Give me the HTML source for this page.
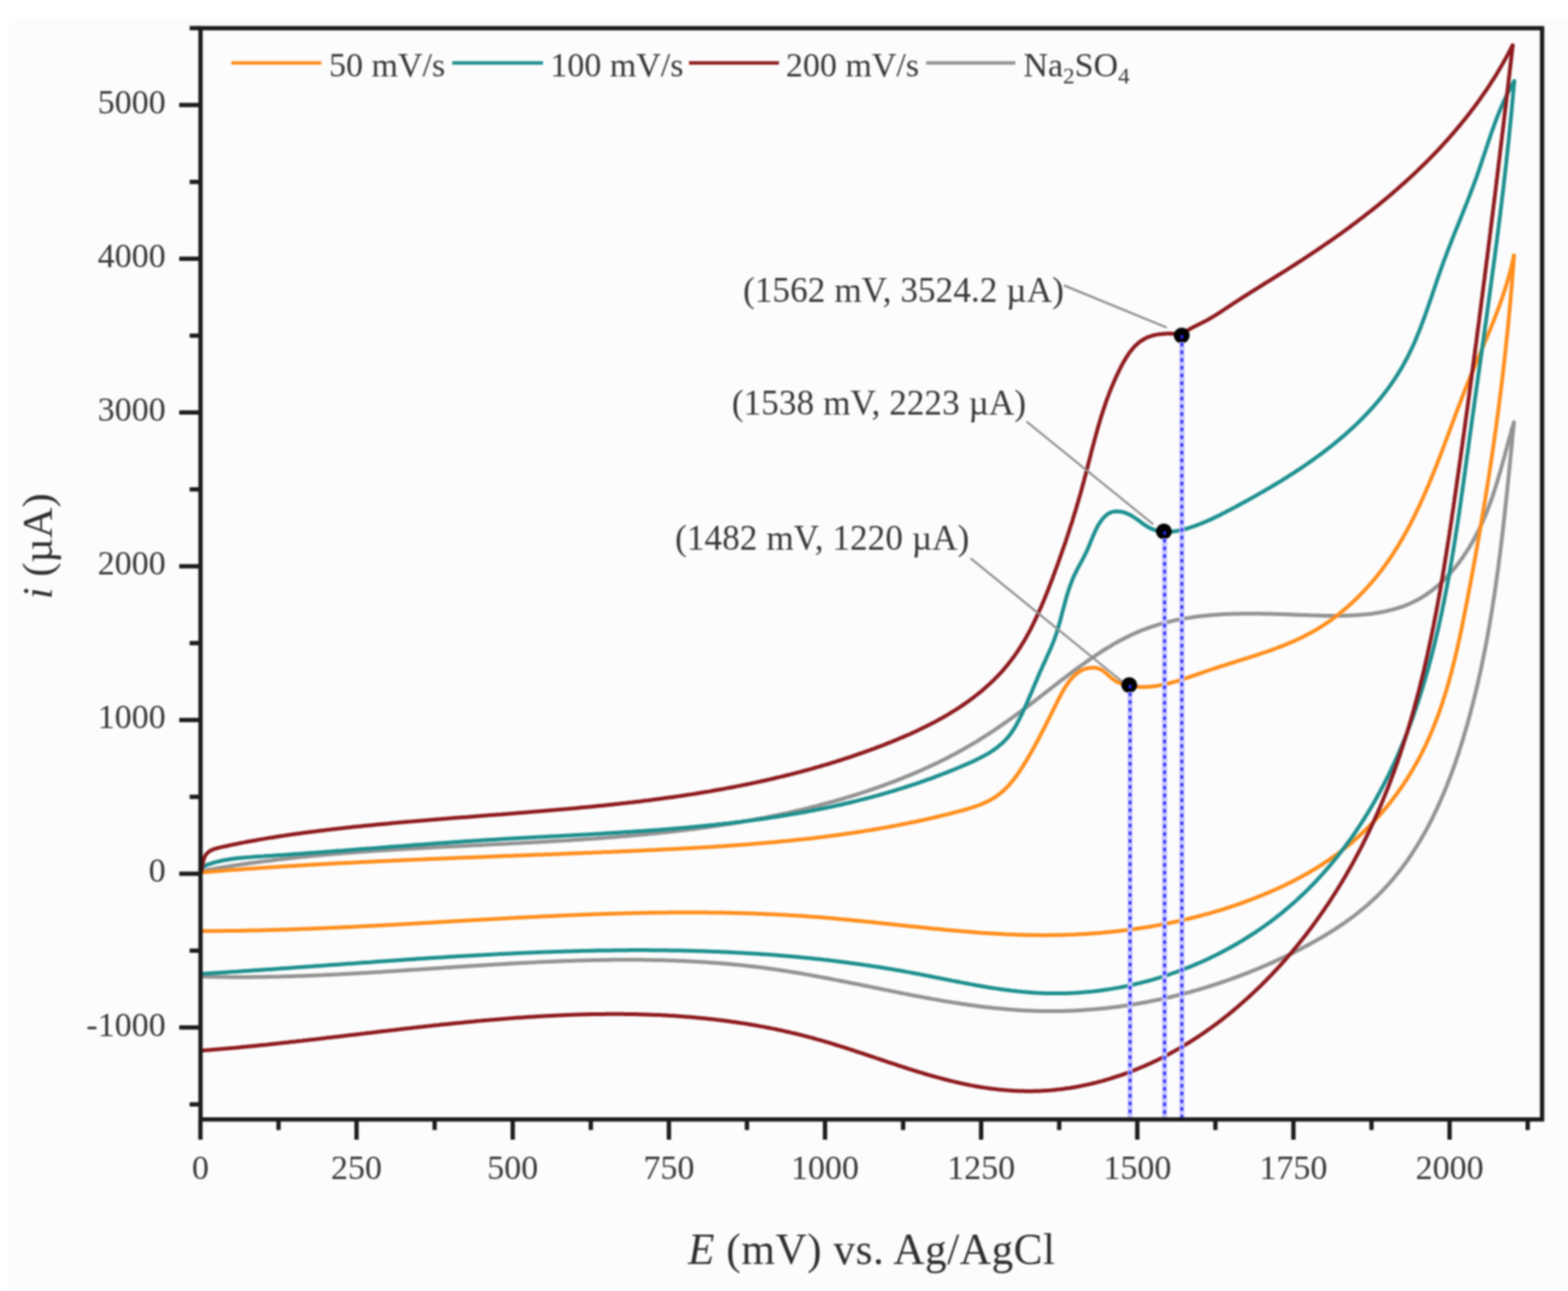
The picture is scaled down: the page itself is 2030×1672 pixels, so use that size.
<!DOCTYPE html>
<html><head><meta charset="utf-8"><title>Cyclic voltammetry</title>
<style>
html,body{margin:0;padding:0;background:#fff;overflow:hidden;}
svg{display:block;}
#wrap{width:2030px;height:1672px;filter:blur(1px);}
.tk{font-family:"Liberation Serif",serif;font-size:44px;fill:#383838;}
.an{font-family:"Liberation Serif",serif;font-size:45.5px;letter-spacing:0.1px;fill:#383838;}
.ti{font-family:"Liberation Serif",serif;font-size:56px;letter-spacing:0.68px;fill:#2e2e2e;}
</style></head><body>
<div id="wrap"><svg xmlns="http://www.w3.org/2000/svg" width="2030" height="1672" viewBox="0 0 2030 1672">
<rect x="0" y="0" width="2030" height="1672" fill="#ffffff"/>
<rect x="12" y="23" width="2018" height="1649" fill="#fcfcfc"/>
<path d="M259.9 1128.2 L262.8 1127.7 L265.7 1127.1 L268.6 1126.6 L271.6 1126.1 L274.5 1125.6 L277.4 1125.1 L280.4 1124.6 L283.3 1124.1 L286.2 1123.6 L289.2 1123.1 L292.1 1122.7 L295.1 1122.2 L298.0 1121.7 L301.0 1121.3 L303.9 1120.8 L306.8 1120.4 L309.8 1119.9 L312.7 1119.5 L315.7 1119.1 L318.6 1118.7 L321.6 1118.2 L324.5 1117.8 L327.5 1117.4 L330.4 1117.0 L333.4 1116.6 L336.3 1116.2 L339.3 1115.8 L342.2 1115.5 L345.2 1115.1 L348.2 1114.7 L351.1 1114.4 L354.1 1114.0 L357.0 1113.6 L360.0 1113.3 L363.0 1112.9 L365.9 1112.6 L368.9 1112.3 L371.9 1111.9 L374.8 1111.6 L377.8 1111.3 L380.7 1110.9 L383.7 1110.6 L386.7 1110.3 L389.7 1110.0 L392.6 1109.7 L395.6 1109.4 L398.6 1109.1 L401.5 1108.8 L404.5 1108.5 L407.5 1108.2 L410.5 1108.0 L413.4 1107.7 L416.4 1107.4 L419.4 1107.1 L422.4 1106.9 L425.3 1106.6 L428.3 1106.4 L431.3 1106.1 L434.3 1105.9 L437.3 1105.6 L440.2 1105.4 L443.2 1105.1 L446.2 1104.9 L449.2 1104.6 L452.2 1104.4 L455.2 1104.2 L458.1 1103.9 L461.1 1103.7 L464.1 1103.5 L467.1 1103.3 L470.1 1103.1 L473.1 1102.9 L476.1 1102.6 L479.1 1102.4 L482.1 1102.2 L485.0 1102.0 L488.0 1101.8 L491.0 1101.6 L494.0 1101.4 L497.0 1101.2 L500.0 1101.0 L503.0 1100.9 L506.0 1100.7 L509.0 1100.5 L512.0 1100.3 L515.0 1100.1 L518.0 1099.9 L521.0 1099.8 L524.0 1099.6 L527.0 1099.4 L530.0 1099.2 L533.0 1099.1 L536.0 1098.9 L539.0 1098.7 L542.0 1098.5 L545.0 1098.4 L548.0 1098.2 L551.0 1098.1 L554.0 1097.9 L557.0 1097.7 L560.0 1097.6 L563.0 1097.4 L566.0 1097.3 L569.0 1097.1 L572.0 1096.9 L575.0 1096.8 L578.0 1096.6 L581.0 1096.5 L584.0 1096.3 L587.0 1096.2 L590.0 1096.0 L593.0 1095.9 L596.0 1095.7 L599.0 1095.6 L602.0 1095.4 L605.1 1095.3 L608.1 1095.1 L611.1 1095.0 L614.1 1094.8 L617.1 1094.7 L620.1 1094.5 L623.1 1094.4 L626.1 1094.2 L629.1 1094.1 L632.1 1093.9 L635.1 1093.8 L638.2 1093.6 L641.2 1093.5 L644.2 1093.3 L647.2 1093.2 L650.2 1093.0 L653.2 1092.9 L656.2 1092.7 L659.2 1092.6 L662.2 1092.4 L665.3 1092.3 L668.3 1092.1 L671.3 1091.9 L674.3 1091.8 L677.3 1091.6 L680.3 1091.5 L683.3 1091.3 L686.3 1091.2 L689.4 1091.0 L692.4 1090.8 L695.4 1090.7 L698.4 1090.5 L701.4 1090.3 L704.4 1090.2 L707.4 1090.0 L710.5 1089.8 L713.5 1089.6 L716.5 1089.5 L719.5 1089.3 L722.5 1089.1 L725.5 1088.9 L728.5 1088.7 L731.6 1088.6 L734.6 1088.4 L737.6 1088.2 L740.6 1088.0 L743.6 1087.8 L746.6 1087.6 L749.6 1087.4 L752.6 1087.2 L755.7 1087.0 L758.7 1086.8 L761.7 1086.6 L764.7 1086.4 L767.7 1086.2 L770.7 1086.0 L773.7 1085.7 L776.7 1085.5 L779.8 1085.3 L782.8 1085.1 L785.8 1084.8 L788.8 1084.6 L791.8 1084.4 L794.8 1084.1 L797.8 1083.9 L800.8 1083.6 L803.8 1083.4 L806.9 1083.1 L809.9 1082.9 L812.9 1082.6 L815.9 1082.4 L818.9 1082.1 L821.9 1081.8 L824.9 1081.6 L827.9 1081.3 L830.9 1081.0 L833.9 1080.7 L836.9 1080.4 L839.9 1080.1 L842.9 1079.8 L845.9 1079.5 L848.9 1079.2 L851.9 1078.9 L854.9 1078.6 L857.9 1078.3 L860.9 1078.0 L863.9 1077.7 L866.9 1077.3 L869.9 1077.0 L872.9 1076.7 L875.9 1076.3 L878.9 1076.0 L881.9 1075.6 L884.9 1075.2 L887.9 1074.9 L890.9 1074.5 L893.9 1074.1 L896.9 1073.8 L899.9 1073.4 L902.9 1073.0 L905.8 1072.6 L908.8 1072.2 L911.8 1071.8 L914.8 1071.4 L917.8 1071.0 L920.8 1070.5 L923.7 1070.1 L926.7 1069.7 L929.7 1069.2 L932.7 1068.8 L935.6 1068.3 L938.6 1067.9 L941.6 1067.4 L944.6 1067.0 L947.5 1066.5 L950.5 1066.0 L953.5 1065.5 L956.4 1065.0 L959.4 1064.5 L962.4 1064.0 L965.3 1063.5 L968.3 1063.0 L971.2 1062.4 L974.2 1061.9 L977.2 1061.4 L980.1 1060.8 L983.1 1060.3 L986.0 1059.7 L989.0 1059.1 L991.9 1058.6 L994.9 1058.0 L997.8 1057.4 L1000.8 1056.8 L1003.7 1056.2 L1006.6 1055.6 L1009.6 1055.0 L1012.5 1054.4 L1015.4 1053.7 L1018.4 1053.1 L1021.3 1052.4 L1024.2 1051.8 L1027.2 1051.1 L1030.1 1050.4 L1033.0 1049.8 L1035.9 1049.1 L1038.9 1048.4 L1041.8 1047.7 L1044.7 1047.0 L1047.6 1046.3 L1050.5 1045.5 L1053.4 1044.8 L1056.3 1044.1 L1059.2 1043.3 L1062.1 1042.5 L1065.0 1041.8 L1067.9 1041.0 L1070.8 1040.2 L1073.7 1039.4 L1076.6 1038.6 L1079.5 1037.8 L1082.4 1037.0 L1085.3 1036.2 L1088.2 1035.3 L1091.1 1034.5 L1093.9 1033.6 L1096.8 1032.7 L1099.7 1031.9 L1102.6 1031.0 L1105.4 1030.1 L1108.3 1029.2 L1111.2 1028.3 L1114.0 1027.4 L1116.9 1026.4 L1119.8 1025.5 L1122.6 1024.5 L1125.5 1023.6 L1128.3 1022.6 L1131.2 1021.6 L1134.0 1020.6 L1136.9 1019.6 L1139.7 1018.6 L1142.5 1017.6 L1145.4 1016.6 L1148.2 1015.5 L1151.0 1014.5 L1153.8 1013.4 L1156.7 1012.4 L1159.5 1011.3 L1162.3 1010.2 L1165.1 1009.1 L1167.9 1008.0 L1170.7 1006.8 L1173.5 1005.7 L1176.3 1004.6 L1179.1 1003.4 L1181.9 1002.2 L1184.6 1001.1 L1187.4 999.9 L1190.2 998.7 L1192.9 997.5 L1195.7 996.2 L1198.4 995.0 L1201.1 993.8 L1203.9 992.5 L1206.6 991.2 L1209.3 990.0 L1212.0 988.7 L1214.7 987.4 L1217.4 986.0 L1220.1 984.7 L1222.8 983.4 L1225.4 982.0 L1228.1 980.7 L1230.7 979.3 L1233.4 977.9 L1236.0 976.5 L1238.6 975.1 L1241.2 973.7 L1243.8 972.3 L1246.4 970.8 L1249.0 969.3 L1251.6 967.9 L1254.1 966.4 L1256.7 964.9 L1259.2 963.4 L1261.8 961.9 L1264.3 960.3 L1266.8 958.8 L1269.3 957.2 L1271.8 955.7 L1274.3 954.1 L1276.8 952.5 L1279.3 950.9 L1281.7 949.3 L1284.2 947.7 L1286.7 946.0 L1289.1 944.4 L1291.6 942.7 L1294.0 941.0 L1296.5 939.4 L1298.9 937.7 L1301.3 936.0 L1303.8 934.3 L1306.2 932.5 L1308.6 930.8 L1311.0 929.1 L1313.5 927.3 L1315.9 925.6 L1318.3 923.8 L1320.7 922.0 L1323.1 920.2 L1325.6 918.4 L1328.0 916.6 L1330.4 914.8 L1332.8 913.0 L1335.2 911.1 L1337.7 909.3 L1340.1 907.4 L1342.5 905.6 L1344.9 903.7 L1347.4 901.8 L1349.8 899.9 L1352.2 898.0 L1354.7 896.1 L1357.1 894.2 L1359.6 892.3 L1362.0 890.4 L1364.5 888.5 L1366.9 886.6 L1369.4 884.7 L1371.9 882.8 L1374.3 880.9 L1376.8 879.0 L1379.3 877.2 L1381.7 875.3 L1384.2 873.4 L1386.7 871.5 L1389.2 869.6 L1391.7 867.8 L1394.2 865.9 L1396.7 864.1 L1399.2 862.3 L1401.7 860.5 L1404.3 858.7 L1406.8 856.9 L1409.3 855.1 L1411.9 853.3 L1414.4 851.6 L1417.0 849.9 L1419.5 848.2 L1422.1 846.5 L1424.6 844.8 L1427.2 843.1 L1429.8 841.5 L1432.4 839.9 L1435.0 838.3 L1437.6 836.8 L1440.2 835.2 L1442.8 833.7 L1445.4 832.2 L1448.0 830.8 L1450.7 829.3 L1453.3 827.9 L1456.0 826.6 L1458.6 825.2 L1461.3 823.9 L1464.0 822.6 L1466.6 821.4 L1469.3 820.2 L1472.0 819.0 L1474.7 817.8 L1477.4 816.7 L1480.2 815.7 L1482.9 814.6 L1485.6 813.6 L1488.4 812.6 L1491.1 811.7 L1493.9 810.8 L1496.7 809.9 L1499.4 809.1 L1502.2 808.2 L1505.0 807.4 L1507.8 806.7 L1510.6 806.0 L1513.4 805.2 L1516.2 804.6 L1519.1 803.9 L1521.9 803.3 L1524.7 802.7 L1527.6 802.1 L1530.4 801.6 L1533.3 801.1 L1536.2 800.6 L1539.0 800.1 L1541.9 799.7 L1544.8 799.2 L1547.7 798.8 L1550.6 798.5 L1553.5 798.1 L1556.4 797.8 L1559.4 797.5 L1562.3 797.2 L1565.2 796.9 L1568.1 796.6 L1571.1 796.4 L1574.0 796.2 L1577.0 796.0 L1580.0 795.8 L1582.9 795.6 L1585.9 795.5 L1588.9 795.3 L1591.8 795.2 L1594.8 795.1 L1597.8 795.0 L1600.8 794.9 L1603.8 794.9 L1606.8 794.8 L1609.8 794.8 L1612.9 794.8 L1615.9 794.8 L1618.9 794.8 L1621.9 794.8 L1625.0 794.8 L1628.0 794.8 L1631.1 794.8 L1634.1 794.9 L1637.2 794.9 L1640.2 795.0 L1643.3 795.1 L1646.3 795.1 L1649.4 795.2 L1652.5 795.3 L1655.6 795.4 L1658.6 795.5 L1661.7 795.6 L1664.8 795.7 L1667.9 795.8 L1671.0 795.9 L1674.1 796.0 L1677.2 796.2 L1680.3 796.3 L1683.4 796.4 L1686.5 796.5 L1689.6 796.6 L1692.7 796.7 L1695.8 796.8 L1699.0 796.9 L1702.1 797.0 L1705.2 797.1 L1708.3 797.2 L1711.4 797.3 L1714.5 797.4 L1717.6 797.4 L1720.7 797.5 L1723.8 797.5 L1726.9 797.5 L1730.0 797.5 L1733.1 797.5 L1736.2 797.4 L1739.2 797.4 L1742.3 797.3 L1745.3 797.2 L1748.4 797.1 L1751.4 797.0 L1754.5 796.8 L1757.5 796.6 L1760.5 796.4 L1763.5 796.1 L1766.5 795.9 L1769.4 795.6 L1772.4 795.2 L1775.3 794.9 L1778.3 794.5 L1781.2 794.0 L1784.1 793.6 L1787.0 793.0 L1789.9 792.5 L1792.7 791.9 L1795.6 791.3 L1798.4 790.6 L1801.2 789.9 L1804.0 789.2 L1806.8 788.4 L1809.5 787.6 L1812.2 786.7 L1814.9 785.8 L1817.6 784.8 L1820.3 783.8 L1822.9 782.7 L1825.6 781.6 L1828.2 780.4 L1830.7 779.1 L1833.3 777.9 L1835.8 776.5 L1838.3 775.1 L1840.8 773.6 L1843.2 772.1 L1845.6 770.6 L1848.0 768.9 L1850.4 767.2 L1852.8 765.5 L1855.1 763.7 L1857.4 761.9 L1859.6 760.0 L1861.8 758.1 L1864.1 756.1 L1866.2 754.1 L1868.4 752.0 L1870.5 749.9 L1872.6 747.7 L1874.7 745.5 L1876.7 743.3 L1878.7 741.1 L1880.7 738.7 L1882.7 736.4 L1884.6 734.0 L1886.5 731.6 L1888.3 729.2 L1890.2 726.7 L1892.0 724.2 L1893.8 721.7 L1895.5 719.2 L1897.2 716.6 L1898.9 714.0 L1900.6 711.4 L1902.2 708.7 L1903.8 706.1 L1905.4 703.4 L1906.9 700.7 L1908.4 698.0 L1909.9 695.3 L1911.4 692.5 L1912.8 689.8 L1914.2 687.0 L1915.5 684.3 L1916.8 681.5 L1918.1 678.7 L1919.4 675.9 L1920.6 673.1 L1921.9 670.3 L1923.0 667.5 L1924.2 664.6 L1925.3 661.8 L1926.4 658.9 L1927.5 656.1 L1928.6 653.2 L1929.6 650.4 L1930.7 647.5 L1931.7 644.7 L1932.6 641.8 L1933.6 638.9 L1934.6 636.0 L1935.5 633.1 L1936.4 630.3 L1937.3 627.4 L1938.2 624.5 L1939.1 621.6 L1939.9 618.7 L1940.8 615.8 L1941.6 612.9 L1942.5 610.0 L1943.3 607.1 L1944.1 604.2 L1944.9 601.3 L1945.7 598.4 L1946.5 595.6 L1947.3 592.7 L1948.1 589.8 L1948.8 586.9 L1949.6 584.0 L1950.4 581.2 L1951.2 578.3 L1951.9 575.4 L1952.7 572.6 L1953.5 569.7 L1954.3 566.8 L1955.1 564.0 L1955.9 561.2 L1956.6 558.3 L1957.4 555.5 L1958.2 552.7 L1959.1 549.9 L1959.9 547.1" fill="none" stroke="#939393" stroke-width="5.0" stroke-linejoin="round" stroke-linecap="round"/>
<path d="M1960.0 547.0 L1959.7 550.0 L1959.4 553.0 L1959.1 556.0 L1958.8 559.0 L1958.5 562.0 L1958.2 565.0 L1957.9 568.0 L1957.7 571.0 L1957.4 574.0 L1957.1 577.0 L1956.8 580.0 L1956.5 582.9 L1956.2 585.9 L1955.9 588.9 L1955.6 591.9 L1955.3 594.9 L1955.0 597.9 L1954.7 600.9 L1954.4 603.9 L1954.1 606.9 L1953.8 609.9 L1953.5 612.9 L1953.2 615.9 L1952.9 618.8 L1952.6 621.8 L1952.3 624.8 L1952.0 627.8 L1951.7 630.8 L1951.4 633.8 L1951.1 636.8 L1950.8 639.8 L1950.5 642.7 L1950.1 645.7 L1949.8 648.7 L1949.5 651.7 L1949.2 654.7 L1948.9 657.7 L1948.5 660.7 L1948.2 663.6 L1947.9 666.6 L1947.6 669.6 L1947.2 672.6 L1946.9 675.6 L1946.6 678.5 L1946.2 681.5 L1945.9 684.5 L1945.5 687.5 L1945.2 690.5 L1944.9 693.4 L1944.5 696.4 L1944.1 699.4 L1943.8 702.4 L1943.4 705.4 L1943.1 708.3 L1942.7 711.3 L1942.3 714.3 L1942.0 717.3 L1941.6 720.2 L1941.2 723.2 L1940.8 726.2 L1940.4 729.2 L1940.0 732.1 L1939.7 735.1 L1939.3 738.1 L1938.9 741.0 L1938.4 744.0 L1938.0 747.0 L1937.6 749.9 L1937.2 752.9 L1936.8 755.9 L1936.4 758.8 L1935.9 761.8 L1935.5 764.8 L1935.1 767.7 L1934.6 770.7 L1934.2 773.7 L1933.7 776.6 L1933.2 779.6 L1932.8 782.6 L1932.3 785.5 L1931.8 788.5 L1931.4 791.4 L1930.9 794.4 L1930.4 797.4 L1929.9 800.3 L1929.4 803.3 L1928.9 806.2 L1928.4 809.2 L1927.9 812.1 L1927.3 815.1 L1926.8 818.1 L1926.3 821.0 L1925.8 824.0 L1925.2 826.9 L1924.7 829.9 L1924.1 832.8 L1923.5 835.8 L1923.0 838.7 L1922.4 841.7 L1921.8 844.6 L1921.2 847.6 L1920.6 850.5 L1920.0 853.5 L1919.4 856.4 L1918.8 859.3 L1918.2 862.3 L1917.6 865.2 L1916.9 868.2 L1916.3 871.1 L1915.6 874.0 L1915.0 877.0 L1914.3 879.9 L1913.7 882.9 L1913.0 885.8 L1912.3 888.7 L1911.6 891.7 L1910.9 894.6 L1910.2 897.5 L1909.5 900.5 L1908.8 903.4 L1908.0 906.3 L1907.3 909.3 L1906.5 912.2 L1905.8 915.1 L1905.0 918.1 L1904.3 921.0 L1903.5 923.9 L1902.7 926.8 L1901.9 929.8 L1901.1 932.7 L1900.3 935.6 L1899.5 938.5 L1898.6 941.5 L1897.8 944.4 L1896.9 947.3 L1896.1 950.2 L1895.2 953.1 L1894.4 956.0 L1893.5 958.9 L1892.6 961.9 L1891.7 964.8 L1890.8 967.7 L1889.8 970.6 L1888.9 973.5 L1888.0 976.4 L1887.0 979.2 L1886.0 982.1 L1885.1 985.0 L1884.1 987.9 L1883.1 990.8 L1882.1 993.6 L1881.0 996.5 L1880.0 999.3 L1878.9 1002.2 L1877.9 1005.0 L1876.8 1007.9 L1875.7 1010.7 L1874.6 1013.5 L1873.5 1016.4 L1872.4 1019.2 L1871.3 1022.0 L1870.1 1024.8 L1869.0 1027.6 L1867.8 1030.3 L1866.6 1033.1 L1865.4 1035.9 L1864.2 1038.6 L1863.0 1041.4 L1861.7 1044.1 L1860.5 1046.9 L1859.2 1049.6 L1857.9 1052.3 L1856.6 1055.0 L1855.3 1057.7 L1854.0 1060.4 L1852.6 1063.1 L1851.3 1065.7 L1849.9 1068.4 L1848.5 1071.0 L1847.1 1073.6 L1845.7 1076.3 L1844.2 1078.9 L1842.8 1081.4 L1841.3 1084.0 L1839.8 1086.6 L1838.3 1089.2 L1836.8 1091.7 L1835.2 1094.2 L1833.7 1096.7 L1832.1 1099.2 L1830.5 1101.7 L1828.9 1104.2 L1827.3 1106.7 L1825.6 1109.1 L1824.0 1111.5 L1822.3 1114.0 L1820.6 1116.4 L1818.9 1118.8 L1817.1 1121.1 L1815.4 1123.5 L1813.6 1125.8 L1811.8 1128.1 L1810.0 1130.5 L1808.1 1132.7 L1806.3 1135.0 L1804.4 1137.3 L1802.5 1139.5 L1800.6 1141.7 L1798.7 1143.9 L1796.7 1146.1 L1794.7 1148.3 L1792.7 1150.4 L1790.7 1152.6 L1788.7 1154.7 L1786.6 1156.8 L1784.6 1158.8 L1782.5 1160.9 L1780.3 1162.9 L1778.2 1164.9 L1776.0 1166.9 L1773.8 1168.9 L1771.6 1170.9 L1769.4 1172.8 L1767.2 1174.7 L1764.9 1176.6 L1762.6 1178.5 L1760.3 1180.4 L1758.0 1182.2 L1755.6 1184.1 L1753.3 1185.9 L1750.9 1187.7 L1748.5 1189.4 L1746.1 1191.2 L1743.7 1192.9 L1741.3 1194.7 L1738.8 1196.4 L1736.3 1198.1 L1733.9 1199.7 L1731.4 1201.4 L1728.8 1203.0 L1726.3 1204.7 L1723.8 1206.3 L1721.2 1207.9 L1718.7 1209.5 L1716.1 1211.0 L1713.5 1212.6 L1710.9 1214.1 L1708.3 1215.6 L1705.7 1217.1 L1703.0 1218.6 L1700.4 1220.1 L1697.7 1221.6 L1695.1 1223.0 L1692.4 1224.5 L1689.7 1225.9 L1687.0 1227.3 L1684.3 1228.7 L1681.6 1230.1 L1678.9 1231.5 L1676.2 1232.9 L1673.5 1234.2 L1670.8 1235.5 L1668.0 1236.9 L1665.3 1238.2 L1662.5 1239.5 L1659.8 1240.8 L1657.0 1242.1 L1654.3 1243.3 L1651.5 1244.6 L1648.7 1245.9 L1646.0 1247.1 L1643.2 1248.3 L1640.4 1249.5 L1637.6 1250.7 L1634.8 1251.9 L1632.0 1253.1 L1629.2 1254.3 L1626.4 1255.5 L1623.6 1256.6 L1620.8 1257.7 L1618.0 1258.9 L1615.2 1260.0 L1612.3 1261.1 L1609.5 1262.2 L1606.7 1263.2 L1603.9 1264.3 L1601.0 1265.4 L1598.2 1266.4 L1595.3 1267.4 L1592.5 1268.5 L1589.6 1269.5 L1586.8 1270.5 L1583.9 1271.4 L1581.0 1272.4 L1578.2 1273.4 L1575.3 1274.3 L1572.4 1275.3 L1569.6 1276.2 L1566.7 1277.1 L1563.8 1278.0 L1560.9 1278.9 L1558.0 1279.8 L1555.1 1280.6 L1552.2 1281.5 L1549.3 1282.3 L1546.4 1283.2 L1543.5 1284.0 L1540.6 1284.8 L1537.7 1285.6 L1534.8 1286.3 L1531.9 1287.1 L1529.0 1287.9 L1526.1 1288.6 L1523.1 1289.3 L1520.2 1290.1 L1517.3 1290.8 L1514.4 1291.5 L1511.4 1292.1 L1508.5 1292.8 L1505.6 1293.5 L1502.6 1294.1 L1499.7 1294.7 L1496.8 1295.3 L1493.8 1295.9 L1490.9 1296.5 L1487.9 1297.1 L1485.0 1297.7 L1482.0 1298.2 L1479.1 1298.8 L1476.1 1299.3 L1473.2 1299.8 L1470.2 1300.3 L1467.3 1300.8 L1464.3 1301.3 L1461.3 1301.7 L1458.4 1302.2 L1455.4 1302.6 L1452.5 1303.1 L1449.5 1303.5 L1446.5 1303.9 L1443.6 1304.3 L1440.6 1304.6 L1437.6 1305.0 L1434.7 1305.3 L1431.7 1305.7 L1428.7 1306.0 L1425.7 1306.3 L1422.8 1306.6 L1419.8 1306.9 L1416.8 1307.1 L1413.8 1307.4 L1410.9 1307.6 L1407.9 1307.8 L1404.9 1308.0 L1401.9 1308.2 L1399.0 1308.4 L1396.0 1308.6 L1393.0 1308.8 L1390.0 1308.9 L1387.0 1309.0 L1384.1 1309.2 L1381.1 1309.3 L1378.1 1309.3 L1375.1 1309.4 L1372.1 1309.5 L1369.2 1309.5 L1366.2 1309.6 L1363.2 1309.6 L1360.2 1309.6 L1357.3 1309.6 L1354.3 1309.6 L1351.3 1309.5 L1348.3 1309.5 L1345.3 1309.4 L1342.4 1309.3 L1339.4 1309.2 L1336.4 1309.1 L1333.4 1309.0 L1330.5 1308.9 L1327.5 1308.7 L1324.5 1308.6 L1321.5 1308.4 L1318.6 1308.2 L1315.6 1308.0 L1312.6 1307.8 L1309.7 1307.6 L1306.7 1307.4 L1303.7 1307.1 L1300.8 1306.8 L1297.8 1306.6 L1294.8 1306.3 L1291.9 1306.0 L1288.9 1305.7 L1285.9 1305.4 L1283.0 1305.1 L1280.0 1304.7 L1277.0 1304.4 L1274.1 1304.0 L1271.1 1303.7 L1268.1 1303.3 L1265.2 1302.9 L1262.2 1302.5 L1259.2 1302.1 L1256.3 1301.7 L1253.3 1301.3 L1250.4 1300.8 L1247.4 1300.4 L1244.4 1300.0 L1241.5 1299.5 L1238.5 1299.1 L1235.6 1298.6 L1232.6 1298.1 L1229.6 1297.6 L1226.7 1297.1 L1223.7 1296.7 L1220.8 1296.2 L1217.8 1295.6 L1214.8 1295.1 L1211.9 1294.6 L1208.9 1294.1 L1206.0 1293.6 L1203.0 1293.0 L1200.0 1292.5 L1197.1 1291.9 L1194.1 1291.4 L1191.2 1290.8 L1188.2 1290.3 L1185.3 1289.7 L1182.3 1289.2 L1179.3 1288.6 L1176.4 1288.0 L1173.4 1287.4 L1170.5 1286.9 L1167.5 1286.3 L1164.6 1285.7 L1161.6 1285.1 L1158.6 1284.5 L1155.7 1283.9 L1152.7 1283.3 L1149.8 1282.7 L1146.8 1282.1 L1143.8 1281.5 L1140.9 1280.9 L1137.9 1280.3 L1135.0 1279.7 L1132.0 1279.1 L1129.1 1278.5 L1126.1 1277.9 L1123.1 1277.3 L1120.2 1276.7 L1117.2 1276.1 L1114.3 1275.5 L1111.3 1274.9 L1108.4 1274.3 L1105.4 1273.8 L1102.4 1273.2 L1099.5 1272.6 L1096.5 1272.0 L1093.6 1271.4 L1090.6 1270.8 L1087.6 1270.2 L1084.7 1269.6 L1081.7 1269.1 L1078.7 1268.5 L1075.8 1267.9 L1072.8 1267.3 L1069.9 1266.8 L1066.9 1266.2 L1063.9 1265.6 L1061.0 1265.1 L1058.0 1264.5 L1055.0 1264.0 L1052.1 1263.5 L1049.1 1262.9 L1046.2 1262.4 L1043.2 1261.9 L1040.2 1261.4 L1037.3 1260.8 L1034.3 1260.3 L1031.3 1259.8 L1028.4 1259.3 L1025.4 1258.9 L1022.4 1258.4 L1019.4 1257.9 L1016.5 1257.4 L1013.5 1257.0 L1010.5 1256.5 L1007.6 1256.1 L1004.6 1255.6 L1001.6 1255.2 L998.7 1254.8 L995.7 1254.4 L992.7 1254.0 L989.7 1253.6 L986.8 1253.2 L983.8 1252.8 L980.8 1252.5 L977.8 1252.1 L974.8 1251.7 L971.9 1251.4 L968.9 1251.1 L965.9 1250.7 L962.9 1250.4 L960.0 1250.1 L957.0 1249.8 L954.0 1249.5 L951.0 1249.2 L948.0 1248.9 L945.0 1248.6 L942.1 1248.4 L939.1 1248.1 L936.1 1247.9 L933.1 1247.6 L930.1 1247.4 L927.1 1247.1 L924.2 1246.9 L921.2 1246.7 L918.2 1246.5 L915.2 1246.3 L912.2 1246.1 L909.2 1245.9 L906.2 1245.7 L903.2 1245.5 L900.3 1245.4 L897.3 1245.2 L894.3 1245.0 L891.3 1244.9 L888.3 1244.7 L885.3 1244.6 L882.3 1244.5 L879.3 1244.4 L876.3 1244.2 L873.3 1244.1 L870.3 1244.0 L867.3 1243.9 L864.4 1243.8 L861.4 1243.7 L858.4 1243.6 L855.4 1243.6 L852.4 1243.5 L849.4 1243.4 L846.4 1243.4 L843.4 1243.3 L840.4 1243.3 L837.4 1243.2 L834.4 1243.2 L831.4 1243.1 L828.4 1243.1 L825.4 1243.1 L822.4 1243.1 L819.4 1243.1 L816.4 1243.0 L813.4 1243.0 L810.4 1243.0 L807.4 1243.0 L804.4 1243.1 L801.4 1243.1 L798.4 1243.1 L795.4 1243.1 L792.4 1243.1 L789.4 1243.2 L786.4 1243.2 L783.4 1243.3 L780.4 1243.3 L777.4 1243.4 L774.4 1243.4 L771.4 1243.5 L768.4 1243.5 L765.4 1243.6 L762.3 1243.7 L759.3 1243.7 L756.3 1243.8 L753.3 1243.9 L750.3 1244.0 L747.3 1244.1 L744.3 1244.2 L741.3 1244.3 L738.3 1244.4 L735.3 1244.5 L732.3 1244.6 L729.3 1244.7 L726.3 1244.8 L723.3 1244.9 L720.3 1245.0 L717.2 1245.2 L714.2 1245.3 L711.2 1245.4 L708.2 1245.6 L705.2 1245.7 L702.2 1245.8 L699.2 1246.0 L696.2 1246.1 L693.2 1246.3 L690.2 1246.4 L687.2 1246.6 L684.1 1246.7 L681.1 1246.9 L678.1 1247.0 L675.1 1247.2 L672.1 1247.3 L669.1 1247.5 L666.1 1247.7 L663.1 1247.8 L660.1 1248.0 L657.0 1248.2 L654.0 1248.4 L651.0 1248.5 L648.0 1248.7 L645.0 1248.9 L642.0 1249.1 L639.0 1249.3 L636.0 1249.4 L633.0 1249.6 L629.9 1249.8 L626.9 1250.0 L623.9 1250.2 L620.9 1250.4 L617.9 1250.6 L614.9 1250.8 L611.9 1251.0 L608.9 1251.1 L605.8 1251.3 L602.8 1251.5 L599.8 1251.7 L596.8 1251.9 L593.8 1252.1 L590.8 1252.3 L587.8 1252.5 L584.8 1252.7 L581.7 1252.9 L578.7 1253.1 L575.7 1253.3 L572.7 1253.5 L569.7 1253.7 L566.7 1253.9 L563.7 1254.1 L560.7 1254.3 L557.6 1254.5 L554.6 1254.7 L551.6 1254.9 L548.6 1255.1 L545.6 1255.3 L542.6 1255.6 L539.6 1255.8 L536.6 1256.0 L533.5 1256.1 L530.5 1256.3 L527.5 1256.5 L524.5 1256.7 L521.5 1256.9 L518.5 1257.1 L515.5 1257.3 L512.5 1257.5 L509.5 1257.7 L506.4 1257.9 L503.4 1258.1 L500.4 1258.3 L497.4 1258.5 L494.4 1258.7 L491.4 1258.9 L488.4 1259.0 L485.4 1259.2 L482.4 1259.4 L479.3 1259.6 L476.3 1259.8 L473.3 1259.9 L470.3 1260.1 L467.3 1260.3 L464.3 1260.5 L461.3 1260.6 L458.3 1260.8 L455.3 1261.0 L452.3 1261.1 L449.2 1261.3 L446.2 1261.5 L443.2 1261.6 L440.2 1261.8 L437.2 1261.9 L434.2 1262.1 L431.2 1262.2 L428.2 1262.4 L425.2 1262.5 L422.2 1262.6 L419.2 1262.8 L416.2 1262.9 L413.2 1263.0 L410.1 1263.2 L407.1 1263.3 L404.1 1263.4 L401.1 1263.5 L398.1 1263.7 L395.1 1263.8 L392.1 1263.9 L389.1 1264.0 L386.1 1264.1 L383.1 1264.2 L380.1 1264.3 L377.1 1264.4 L374.1 1264.5 L371.1 1264.6 L368.1 1264.6 L365.1 1264.7 L362.1 1264.8 L359.1 1264.9 L356.1 1264.9 L353.1 1265.0 L350.1 1265.1 L347.1 1265.1 L344.1 1265.2 L341.1 1265.2 L338.1 1265.2 L335.1 1265.3 L332.1 1265.3 L329.1 1265.3 L326.1 1265.4 L323.1 1265.4 L320.1 1265.4 L317.1 1265.4 L314.1 1265.4 L311.1 1265.4 L308.1 1265.4 L305.1 1265.4 L302.1 1265.4 L299.1 1265.4 L296.1 1265.4 L293.1 1265.3 L290.1 1265.3 L287.1 1265.2 L284.1 1265.2 L281.1 1265.2 L278.2 1265.1 L275.2 1265.0 L272.2 1265.0 L269.2 1264.9 L266.2 1264.8 L263.2 1264.7 L260.2 1264.6" fill="none" stroke="#939393" stroke-width="5.0" stroke-linejoin="round" stroke-linecap="round"/>
<path d="M260.0 1129.9 L263.0 1129.6 L266.0 1129.4 L269.0 1129.2 L272.0 1128.9 L275.0 1128.7 L278.0 1128.4 L281.0 1128.2 L284.0 1128.0 L287.0 1127.7 L290.0 1127.5 L292.9 1127.3 L295.9 1127.1 L298.9 1126.8 L301.9 1126.6 L304.9 1126.4 L307.9 1126.2 L310.9 1125.9 L313.9 1125.7 L316.9 1125.5 L319.9 1125.3 L322.9 1125.1 L325.9 1124.9 L328.9 1124.7 L331.9 1124.5 L334.9 1124.3 L337.9 1124.1 L340.9 1123.9 L343.9 1123.7 L346.9 1123.5 L349.9 1123.3 L352.9 1123.1 L355.9 1122.9 L358.9 1122.7 L361.9 1122.5 L364.9 1122.3 L367.9 1122.1 L370.9 1121.9 L373.9 1121.7 L376.9 1121.6 L379.9 1121.4 L382.9 1121.2 L385.9 1121.0 L388.9 1120.8 L391.9 1120.7 L394.9 1120.5 L397.9 1120.3 L400.9 1120.1 L403.9 1120.0 L406.9 1119.8 L409.9 1119.6 L412.9 1119.5 L415.9 1119.3 L418.9 1119.1 L421.9 1119.0 L424.9 1118.8 L427.9 1118.6 L430.9 1118.5 L433.9 1118.3 L436.9 1118.1 L439.9 1118.0 L442.9 1117.8 L445.9 1117.7 L448.9 1117.5 L451.9 1117.4 L454.9 1117.2 L457.9 1117.1 L460.9 1116.9 L463.9 1116.8 L466.9 1116.6 L469.9 1116.5 L472.9 1116.3 L475.9 1116.2 L478.9 1116.0 L481.9 1115.9 L484.9 1115.7 L487.9 1115.6 L490.9 1115.5 L493.9 1115.3 L496.9 1115.2 L499.9 1115.0 L502.9 1114.9 L505.9 1114.8 L508.9 1114.6 L511.9 1114.5 L514.9 1114.4 L517.9 1114.2 L520.9 1114.1 L523.9 1114.0 L526.9 1113.8 L529.9 1113.7 L532.9 1113.6 L535.9 1113.4 L538.9 1113.3 L541.9 1113.2 L544.9 1113.1 L547.9 1112.9 L550.9 1112.8 L553.9 1112.7 L556.9 1112.5 L559.9 1112.4 L562.9 1112.3 L565.9 1112.2 L568.9 1112.1 L571.9 1111.9 L574.9 1111.8 L577.9 1111.7 L580.9 1111.6 L583.9 1111.4 L586.9 1111.3 L589.9 1111.2 L592.9 1111.1 L595.9 1111.0 L598.9 1110.8 L601.9 1110.7 L604.9 1110.6 L607.9 1110.5 L610.9 1110.4 L613.9 1110.2 L616.9 1110.1 L619.9 1110.0 L622.9 1109.9 L625.9 1109.8 L628.9 1109.7 L631.9 1109.5 L634.9 1109.4 L637.9 1109.3 L640.9 1109.2 L643.9 1109.1 L646.9 1109.0 L649.9 1108.8 L652.9 1108.7 L655.9 1108.6 L658.9 1108.5 L661.9 1108.4 L664.9 1108.3 L667.9 1108.1 L670.9 1108.0 L673.9 1107.9 L677.0 1107.8 L680.0 1107.7 L683.0 1107.6 L686.0 1107.5 L689.0 1107.3 L692.0 1107.2 L695.0 1107.1 L698.0 1107.0 L701.0 1106.9 L704.0 1106.8 L707.0 1106.6 L710.0 1106.5 L713.0 1106.4 L716.0 1106.3 L719.0 1106.2 L722.0 1106.1 L725.0 1105.9 L728.0 1105.8 L731.0 1105.7 L734.0 1105.6 L737.0 1105.5 L740.0 1105.3 L743.0 1105.2 L746.0 1105.1 L749.0 1105.0 L752.0 1104.9 L755.0 1104.7 L758.1 1104.6 L761.1 1104.5 L764.1 1104.4 L767.1 1104.3 L770.1 1104.1 L773.1 1104.0 L776.1 1103.9 L779.1 1103.8 L782.1 1103.6 L785.1 1103.5 L788.1 1103.4 L791.1 1103.3 L794.1 1103.1 L797.1 1103.0 L800.1 1102.9 L803.1 1102.7 L806.1 1102.6 L809.1 1102.5 L812.1 1102.4 L815.1 1102.2 L818.1 1102.1 L821.2 1102.0 L824.2 1101.8 L827.2 1101.7 L830.2 1101.6 L833.2 1101.4 L836.2 1101.3 L839.2 1101.1 L842.2 1101.0 L845.2 1100.9 L848.2 1100.7 L851.2 1100.6 L854.2 1100.4 L857.2 1100.3 L860.2 1100.1 L863.2 1100.0 L866.2 1099.8 L869.2 1099.7 L872.2 1099.5 L875.3 1099.4 L878.3 1099.2 L881.3 1099.1 L884.3 1098.9 L887.3 1098.8 L890.3 1098.6 L893.3 1098.4 L896.3 1098.3 L899.3 1098.1 L902.3 1097.9 L905.3 1097.8 L908.3 1097.6 L911.3 1097.4 L914.3 1097.2 L917.3 1097.0 L920.3 1096.9 L923.3 1096.7 L926.3 1096.5 L929.3 1096.3 L932.3 1096.1 L935.3 1095.9 L938.3 1095.7 L941.3 1095.5 L944.3 1095.3 L947.3 1095.1 L950.3 1094.9 L953.3 1094.6 L956.3 1094.4 L959.3 1094.2 L962.3 1094.0 L965.3 1093.8 L968.3 1093.5 L971.3 1093.3 L974.3 1093.1 L977.3 1092.8 L980.3 1092.6 L983.3 1092.3 L986.3 1092.1 L989.3 1091.8 L992.3 1091.6 L995.3 1091.3 L998.2 1091.0 L1001.2 1090.8 L1004.2 1090.5 L1007.2 1090.2 L1010.2 1089.9 L1013.2 1089.6 L1016.2 1089.3 L1019.2 1089.1 L1022.2 1088.8 L1025.2 1088.4 L1028.1 1088.1 L1031.1 1087.8 L1034.1 1087.5 L1037.1 1087.2 L1040.1 1086.9 L1043.1 1086.5 L1046.0 1086.2 L1049.0 1085.9 L1052.0 1085.5 L1055.0 1085.2 L1058.0 1084.8 L1061.0 1084.4 L1063.9 1084.1 L1066.9 1083.7 L1069.9 1083.3 L1072.9 1083.0 L1075.8 1082.6 L1078.8 1082.2 L1081.8 1081.8 L1084.8 1081.4 L1087.7 1081.0 L1090.7 1080.6 L1093.7 1080.1 L1096.6 1079.7 L1099.6 1079.3 L1102.6 1078.9 L1105.6 1078.4 L1108.5 1078.0 L1111.5 1077.5 L1114.4 1077.1 L1117.4 1076.6 L1120.4 1076.1 L1123.3 1075.6 L1126.3 1075.2 L1129.3 1074.7 L1132.2 1074.2 L1135.2 1073.7 L1138.1 1073.2 L1141.1 1072.6 L1144.0 1072.1 L1147.0 1071.6 L1150.0 1071.1 L1152.9 1070.5 L1155.9 1070.0 L1158.8 1069.4 L1161.8 1068.9 L1164.7 1068.3 L1167.7 1067.7 L1170.6 1067.1 L1173.6 1066.5 L1176.5 1065.9 L1179.4 1065.3 L1182.4 1064.7 L1185.3 1064.1 L1188.3 1063.5 L1191.2 1062.8 L1194.1 1062.2 L1197.1 1061.6 L1200.0 1060.9 L1202.9 1060.2 L1205.9 1059.6 L1208.8 1058.9 L1211.7 1058.2 L1214.7 1057.5 L1217.6 1056.8 L1220.5 1056.1 L1223.4 1055.4 L1226.4 1054.7 L1229.3 1053.9 L1232.2 1053.2 L1235.1 1052.4 L1238.1 1051.7 L1241.0 1050.9 L1243.9 1050.1 L1246.8 1049.3 L1249.7 1048.5 L1252.6 1047.7 L1255.5 1046.8 L1258.3 1045.9 L1261.2 1045.0 L1264.0 1044.0 L1266.8 1043.0 L1269.6 1041.9 L1272.3 1040.8 L1275.0 1039.6 L1277.7 1038.4 L1280.3 1037.0 L1282.9 1035.7 L1285.5 1034.2 L1288.0 1032.6 L1290.4 1031.0 L1292.8 1029.3 L1295.1 1027.4 L1297.4 1025.5 L1299.7 1023.5 L1301.8 1021.4 L1304.0 1019.2 L1306.1 1017.0 L1308.1 1014.7 L1310.1 1012.3 L1312.0 1009.9 L1313.9 1007.5 L1315.8 1005.0 L1317.6 1002.4 L1319.4 999.8 L1321.1 997.2 L1322.8 994.6 L1324.5 992.0 L1326.1 989.4 L1327.7 986.7 L1329.3 984.1 L1330.9 981.4 L1332.4 978.8 L1333.9 976.2 L1335.4 973.6 L1336.8 971.0 L1338.3 968.5 L1339.7 965.9 L1341.1 963.3 L1342.5 960.8 L1343.8 958.2 L1345.2 955.6 L1346.5 953.1 L1347.9 950.5 L1349.2 947.9 L1350.5 945.4 L1351.9 942.8 L1353.2 940.2 L1354.5 937.6 L1355.8 934.9 L1357.1 932.3 L1358.5 929.7 L1359.8 927.0 L1361.1 924.3 L1362.5 921.6 L1363.8 918.9 L1365.2 916.1 L1366.6 913.3 L1368.0 910.5 L1369.4 907.7 L1370.8 904.9 L1372.3 902.0 L1373.8 899.2 L1375.3 896.4 L1376.9 893.6 L1378.5 890.9 L1380.2 888.3 L1381.9 885.7 L1383.7 883.2 L1385.5 880.8 L1387.5 878.5 L1389.5 876.4 L1391.5 874.4 L1393.7 872.5 L1395.9 870.8 L1398.2 869.3 L1400.6 868.0 L1403.2 866.9 L1405.8 866.0 L1408.5 865.3 L1411.4 864.9 L1414.3 864.7 L1417.3 864.8 L1420.2 865.3 L1423.1 866.1 L1425.8 867.3 L1428.3 869.0 L1430.7 870.8 L1433.1 872.9 L1435.4 875.0 L1437.7 877.1 L1440.1 879.0 L1442.6 880.8 L1445.2 882.4 L1447.9 883.7 L1450.6 884.9 L1453.4 885.9 L1456.3 886.8 L1459.1 887.5 L1462.0 888.1 L1464.9 888.6 L1467.8 889.0 L1470.7 889.4 L1473.6 889.6 L1476.5 889.7 L1479.4 889.8 L1482.3 889.7 L1485.2 889.6 L1488.1 889.4 L1491.0 889.1 L1493.9 888.8 L1496.8 888.4 L1499.7 887.9 L1502.6 887.4 L1505.6 886.8 L1508.5 886.2 L1511.4 885.5 L1514.3 884.8 L1517.2 884.0 L1520.1 883.2 L1523.1 882.3 L1526.0 881.5 L1528.9 880.6 L1531.8 879.6 L1534.8 878.7 L1537.7 877.7 L1540.6 876.7 L1543.5 875.7 L1546.5 874.7 L1549.4 873.6 L1552.3 872.6 L1555.3 871.6 L1558.2 870.5 L1561.1 869.5 L1564.1 868.5 L1567.0 867.5 L1570.0 866.5 L1572.9 865.6 L1575.8 864.6 L1578.8 863.7 L1581.7 862.7 L1584.7 861.8 L1587.6 860.8 L1590.5 859.9 L1593.5 859.0 L1596.4 858.1 L1599.3 857.2 L1602.2 856.2 L1605.1 855.3 L1608.1 854.4 L1611.0 853.5 L1613.9 852.6 L1616.8 851.7 L1619.7 850.7 L1622.6 849.8 L1625.4 848.9 L1628.3 847.9 L1631.2 847.0 L1634.0 846.0 L1636.9 845.0 L1639.7 844.1 L1642.6 843.1 L1645.4 842.1 L1648.2 841.1 L1651.0 840.0 L1653.8 839.0 L1656.6 837.9 L1659.4 836.9 L1662.2 835.8 L1664.9 834.6 L1667.7 833.5 L1670.4 832.4 L1673.2 831.2 L1675.9 830.0 L1678.6 828.8 L1681.2 827.5 L1683.9 826.3 L1686.6 825.0 L1689.2 823.6 L1691.8 822.3 L1694.5 820.9 L1697.0 819.5 L1699.6 818.1 L1702.2 816.6 L1704.7 815.1 L1707.3 813.6 L1709.8 812.0 L1712.3 810.4 L1714.8 808.8 L1717.2 807.1 L1719.7 805.5 L1722.1 803.7 L1724.5 802.0 L1726.9 800.2 L1729.3 798.5 L1731.7 796.6 L1734.0 794.8 L1736.3 792.9 L1738.6 791.0 L1740.9 789.1 L1743.2 787.2 L1745.4 785.2 L1747.7 783.2 L1749.9 781.2 L1752.1 779.1 L1754.2 777.1 L1756.4 775.0 L1758.5 772.9 L1760.6 770.8 L1762.7 768.6 L1764.8 766.5 L1766.9 764.3 L1768.9 762.1 L1770.9 759.9 L1772.9 757.6 L1774.9 755.4 L1776.8 753.1 L1778.7 750.8 L1780.7 748.5 L1782.5 746.2 L1784.4 743.8 L1786.2 741.5 L1788.1 739.1 L1789.9 736.7 L1791.6 734.3 L1793.4 731.9 L1795.1 729.5 L1796.9 727.1 L1798.5 724.6 L1800.2 722.2 L1801.9 719.7 L1803.5 717.2 L1805.1 714.7 L1806.7 712.2 L1808.3 709.7 L1809.9 707.1 L1811.4 704.6 L1812.9 702.0 L1814.5 699.4 L1816.0 696.9 L1817.4 694.3 L1818.9 691.7 L1820.3 689.1 L1821.8 686.4 L1823.2 683.8 L1824.6 681.2 L1826.0 678.5 L1827.3 675.9 L1828.7 673.2 L1830.1 670.5 L1831.4 667.8 L1832.7 665.1 L1834.0 662.4 L1835.3 659.7 L1836.6 657.0 L1837.9 654.3 L1839.1 651.6 L1840.4 648.8 L1841.6 646.1 L1842.8 643.3 L1844.0 640.6 L1845.2 637.8 L1846.4 635.1 L1847.6 632.3 L1848.8 629.5 L1850.0 626.7 L1851.1 623.9 L1852.3 621.1 L1853.4 618.3 L1854.6 615.5 L1855.7 612.7 L1856.8 609.9 L1858.0 607.1 L1859.1 604.3 L1860.2 601.5 L1861.3 598.7 L1862.4 595.8 L1863.5 593.0 L1864.6 590.2 L1865.6 587.3 L1866.7 584.5 L1867.8 581.7 L1868.9 578.8 L1869.9 576.0 L1871.0 573.1 L1872.1 570.3 L1873.1 567.5 L1874.2 564.6 L1875.2 561.8 L1876.3 558.9 L1877.4 556.1 L1878.4 553.2 L1879.5 550.4 L1880.5 547.6 L1881.6 544.7 L1882.6 541.9 L1883.7 539.0 L1884.8 536.2 L1885.8 533.4 L1886.9 530.5 L1888.0 527.7 L1889.0 524.9 L1890.1 522.1 L1891.2 519.2 L1892.2 516.4 L1893.3 513.6 L1894.4 510.8 L1895.5 508.0 L1896.6 505.2 L1897.7 502.4 L1898.8 499.6 L1899.9 496.8 L1901.0 494.0 L1902.2 491.3 L1903.3 488.5 L1904.4 485.7 L1905.6 483.0 L1906.7 480.2 L1907.9 477.4 L1909.0 474.7 L1910.2 471.9 L1911.3 469.2 L1912.5 466.4 L1913.7 463.7 L1914.8 461.0 L1916.0 458.2 L1917.2 455.5 L1918.3 452.7 L1919.5 450.0 L1920.6 447.3 L1921.8 444.5 L1922.9 441.8 L1924.1 439.0 L1925.2 436.3 L1926.4 433.6 L1927.5 430.8 L1928.6 428.1 L1929.8 425.3 L1930.9 422.6 L1932.0 419.8 L1933.1 417.0 L1934.2 414.3 L1935.3 411.5 L1936.3 408.7 L1937.4 406.0 L1938.5 403.2 L1939.5 400.4 L1940.5 397.6 L1941.6 394.8 L1942.6 392.0 L1943.6 389.2 L1944.6 386.4 L1945.5 383.5 L1946.5 380.7 L1947.4 377.8 L1948.3 375.0 L1949.2 372.1 L1950.1 369.3 L1951.0 366.4 L1951.8 363.5 L1952.7 360.6 L1953.5 357.7 L1954.3 354.7 L1955.1 351.8 L1955.8 348.9 L1956.6 345.9 L1957.3 342.9 L1958.0 340.0 L1958.6 337.0 L1959.3 334.0 L1959.9 330.9" fill="none" stroke="#ff8e1c" stroke-width="5.0" stroke-linejoin="round" stroke-linecap="round"/>
<path d="M1960.1 331.0 L1959.9 334.0 L1959.7 337.0 L1959.5 340.1 L1959.2 343.1 L1959.0 346.1 L1958.8 349.1 L1958.6 352.1 L1958.3 355.2 L1958.1 358.2 L1957.8 361.2 L1957.6 364.2 L1957.4 367.2 L1957.1 370.2 L1956.9 373.2 L1956.6 376.2 L1956.3 379.3 L1956.1 382.3 L1955.8 385.3 L1955.6 388.3 L1955.3 391.3 L1955.0 394.3 L1954.7 397.3 L1954.5 400.3 L1954.2 403.3 L1953.9 406.3 L1953.6 409.3 L1953.3 412.3 L1953.1 415.3 L1952.8 418.3 L1952.5 421.2 L1952.2 424.2 L1951.9 427.2 L1951.6 430.2 L1951.3 433.2 L1951.0 436.2 L1950.6 439.2 L1950.3 442.2 L1950.0 445.1 L1949.7 448.1 L1949.4 451.1 L1949.1 454.1 L1948.7 457.1 L1948.4 460.1 L1948.1 463.0 L1947.7 466.0 L1947.4 469.0 L1947.1 472.0 L1946.7 474.9 L1946.4 477.9 L1946.0 480.9 L1945.7 483.9 L1945.3 486.8 L1945.0 489.8 L1944.6 492.8 L1944.3 495.8 L1943.9 498.7 L1943.5 501.7 L1943.2 504.7 L1942.8 507.6 L1942.4 510.6 L1942.1 513.6 L1941.7 516.5 L1941.3 519.5 L1940.9 522.5 L1940.5 525.4 L1940.2 528.4 L1939.8 531.4 L1939.4 534.3 L1939.0 537.3 L1938.6 540.3 L1938.2 543.2 L1937.8 546.2 L1937.4 549.1 L1937.0 552.1 L1936.6 555.1 L1936.2 558.0 L1935.8 561.0 L1935.3 564.0 L1934.9 566.9 L1934.5 569.9 L1934.1 572.8 L1933.7 575.8 L1933.2 578.8 L1932.8 581.7 L1932.4 584.7 L1931.9 587.6 L1931.5 590.6 L1931.1 593.6 L1930.6 596.5 L1930.2 599.5 L1929.7 602.4 L1929.3 605.4 L1928.8 608.3 L1928.4 611.3 L1927.9 614.3 L1927.5 617.2 L1927.0 620.2 L1926.5 623.1 L1926.1 626.1 L1925.6 629.1 L1925.1 632.0 L1924.7 635.0 L1924.2 637.9 L1923.7 640.9 L1923.2 643.9 L1922.8 646.8 L1922.3 649.8 L1921.8 652.7 L1921.3 655.7 L1920.8 658.7 L1920.3 661.6 L1919.8 664.6 L1919.3 667.5 L1918.8 670.5 L1918.3 673.5 L1917.8 676.4 L1917.3 679.4 L1916.8 682.3 L1916.3 685.3 L1915.8 688.3 L1915.3 691.2 L1914.8 694.2 L1914.3 697.2 L1913.7 700.1 L1913.2 703.1 L1912.7 706.1 L1912.2 709.0 L1911.6 712.0 L1911.1 714.9 L1910.6 717.9 L1910.1 720.9 L1909.5 723.9 L1909.0 726.8 L1908.4 729.8 L1907.9 732.8 L1907.3 735.7 L1906.8 738.7 L1906.2 741.7 L1905.7 744.6 L1905.1 747.6 L1904.6 750.6 L1904.0 753.6 L1903.5 756.5 L1902.9 759.5 L1902.3 762.5 L1901.8 765.5 L1901.2 768.5 L1900.6 771.4 L1900.1 774.4 L1899.5 777.4 L1898.9 780.4 L1898.3 783.4 L1897.8 786.3 L1897.2 789.3 L1896.6 792.3 L1896.0 795.3 L1895.4 798.3 L1894.8 801.3 L1894.2 804.2 L1893.6 807.2 L1893.0 810.2 L1892.4 813.2 L1891.8 816.2 L1891.1 819.1 L1890.5 822.1 L1889.9 825.1 L1889.2 828.1 L1888.6 831.0 L1887.9 834.0 L1887.2 837.0 L1886.6 839.9 L1885.9 842.9 L1885.2 845.9 L1884.5 848.8 L1883.8 851.8 L1883.1 854.7 L1882.4 857.7 L1881.6 860.6 L1880.9 863.5 L1880.1 866.5 L1879.4 869.4 L1878.6 872.3 L1877.8 875.3 L1877.0 878.2 L1876.2 881.1 L1875.4 884.0 L1874.6 886.9 L1873.7 889.8 L1872.9 892.7 L1872.0 895.6 L1871.1 898.5 L1870.2 901.3 L1869.3 904.2 L1868.4 907.1 L1867.5 909.9 L1866.5 912.8 L1865.6 915.6 L1864.6 918.4 L1863.6 921.3 L1862.6 924.1 L1861.6 926.9 L1860.5 929.7 L1859.5 932.5 L1858.4 935.3 L1857.3 938.1 L1856.2 940.9 L1855.1 943.6 L1854.0 946.4 L1852.8 949.1 L1851.7 951.9 L1850.5 954.6 L1849.2 957.3 L1848.0 960.1 L1846.8 962.8 L1845.5 965.5 L1844.2 968.1 L1842.9 970.8 L1841.6 973.5 L1840.2 976.1 L1838.9 978.8 L1837.5 981.4 L1836.1 984.0 L1834.7 986.6 L1833.2 989.2 L1831.8 991.8 L1830.3 994.4 L1828.8 997.0 L1827.2 999.5 L1825.7 1002.1 L1824.1 1004.6 L1822.6 1007.1 L1821.0 1009.6 L1819.3 1012.1 L1817.7 1014.6 L1816.1 1017.1 L1814.4 1019.5 L1812.7 1022.0 L1811.0 1024.4 L1809.2 1026.8 L1807.5 1029.2 L1805.7 1031.6 L1803.9 1034.0 L1802.1 1036.3 L1800.3 1038.7 L1798.5 1041.0 L1796.6 1043.3 L1794.7 1045.6 L1792.8 1047.9 L1790.9 1050.2 L1789.0 1052.4 L1787.0 1054.7 L1785.1 1056.9 L1783.1 1059.1 L1781.1 1061.3 L1779.1 1063.4 L1777.0 1065.6 L1775.0 1067.7 L1772.9 1069.9 L1770.8 1072.0 L1768.7 1074.1 L1766.6 1076.1 L1764.4 1078.2 L1762.2 1080.2 L1760.1 1082.3 L1757.9 1084.3 L1755.6 1086.2 L1753.4 1088.2 L1751.2 1090.2 L1748.9 1092.1 L1746.6 1094.0 L1744.3 1095.9 L1742.0 1097.8 L1739.7 1099.6 L1737.3 1101.5 L1734.9 1103.3 L1732.6 1105.1 L1730.2 1106.9 L1727.7 1108.6 L1725.3 1110.3 L1722.9 1112.1 L1720.4 1113.8 L1717.9 1115.4 L1715.4 1117.1 L1712.9 1118.8 L1710.4 1120.4 L1707.9 1122.0 L1705.3 1123.6 L1702.8 1125.2 L1700.2 1126.7 L1697.6 1128.2 L1695.0 1129.8 L1692.4 1131.3 L1689.7 1132.7 L1687.1 1134.2 L1684.5 1135.7 L1681.8 1137.1 L1679.1 1138.5 L1676.4 1139.9 L1673.7 1141.3 L1671.0 1142.7 L1668.3 1144.0 L1665.6 1145.3 L1662.9 1146.7 L1660.1 1148.0 L1657.4 1149.2 L1654.6 1150.5 L1651.9 1151.8 L1649.1 1153.0 L1646.3 1154.2 L1643.5 1155.4 L1640.7 1156.6 L1637.9 1157.8 L1635.1 1159.0 L1632.3 1160.1 L1629.4 1161.3 L1626.6 1162.4 L1623.8 1163.5 L1620.9 1164.6 L1618.1 1165.7 L1615.2 1166.7 L1612.4 1167.8 L1609.5 1168.8 L1606.7 1169.9 L1603.8 1170.9 L1600.9 1171.9 L1598.0 1172.8 L1595.1 1173.8 L1592.2 1174.8 L1589.4 1175.7 L1586.5 1176.6 L1583.6 1177.6 L1580.7 1178.5 L1577.7 1179.3 L1574.8 1180.2 L1571.9 1181.1 L1569.0 1181.9 L1566.1 1182.8 L1563.2 1183.6 L1560.2 1184.4 L1557.3 1185.2 L1554.4 1186.0 L1551.4 1186.7 L1548.5 1187.5 L1545.6 1188.2 L1542.6 1189.0 L1539.7 1189.7 L1536.8 1190.4 L1533.8 1191.1 L1530.9 1191.8 L1527.9 1192.4 L1525.0 1193.1 L1522.0 1193.7 L1519.1 1194.4 L1516.1 1195.0 L1513.2 1195.6 L1510.2 1196.2 L1507.3 1196.7 L1504.3 1197.3 L1501.4 1197.9 L1498.4 1198.4 L1495.5 1198.9 L1492.5 1199.5 L1489.5 1200.0 L1486.6 1200.5 L1483.6 1200.9 L1480.7 1201.4 L1477.7 1201.9 L1474.7 1202.3 L1471.8 1202.8 L1468.8 1203.2 L1465.8 1203.6 L1462.9 1204.0 L1459.9 1204.4 L1456.9 1204.8 L1454.0 1205.1 L1451.0 1205.5 L1448.0 1205.8 L1445.1 1206.2 L1442.1 1206.5 L1439.1 1206.8 L1436.2 1207.1 L1433.2 1207.4 L1430.2 1207.6 L1427.2 1207.9 L1424.3 1208.2 L1421.3 1208.4 L1418.3 1208.6 L1415.3 1208.9 L1412.4 1209.1 L1409.4 1209.3 L1406.4 1209.5 L1403.4 1209.7 L1400.5 1209.8 L1397.5 1210.0 L1394.5 1210.1 L1391.5 1210.3 L1388.5 1210.4 L1385.6 1210.5 L1382.6 1210.6 L1379.6 1210.7 L1376.6 1210.8 L1373.6 1210.9 L1370.6 1211.0 L1367.7 1211.0 L1364.7 1211.1 L1361.7 1211.1 L1358.7 1211.1 L1355.7 1211.2 L1352.7 1211.2 L1349.8 1211.2 L1346.8 1211.2 L1343.8 1211.1 L1340.8 1211.1 L1337.8 1211.1 L1334.8 1211.0 L1331.8 1211.0 L1328.9 1210.9 L1325.9 1210.8 L1322.9 1210.7 L1319.9 1210.7 L1316.9 1210.6 L1313.9 1210.4 L1310.9 1210.3 L1308.0 1210.2 L1305.0 1210.1 L1302.0 1209.9 L1299.0 1209.8 L1296.0 1209.6 L1293.0 1209.5 L1290.0 1209.3 L1287.0 1209.1 L1284.1 1209.0 L1281.1 1208.8 L1278.1 1208.6 L1275.1 1208.4 L1272.1 1208.2 L1269.1 1208.0 L1266.1 1207.7 L1263.1 1207.5 L1260.1 1207.3 L1257.2 1207.1 L1254.2 1206.8 L1251.2 1206.6 L1248.2 1206.3 L1245.2 1206.1 L1242.2 1205.8 L1239.2 1205.6 L1236.2 1205.3 L1233.2 1205.0 L1230.2 1204.8 L1227.2 1204.5 L1224.3 1204.2 L1221.3 1203.9 L1218.3 1203.6 L1215.3 1203.3 L1212.3 1203.0 L1209.3 1202.8 L1206.3 1202.5 L1203.3 1202.2 L1200.3 1201.8 L1197.3 1201.5 L1194.3 1201.2 L1191.3 1200.9 L1188.3 1200.6 L1185.3 1200.3 L1182.4 1200.0 L1179.4 1199.7 L1176.4 1199.4 L1173.4 1199.0 L1170.4 1198.7 L1167.4 1198.4 L1164.4 1198.1 L1161.4 1197.8 L1158.4 1197.5 L1155.4 1197.1 L1152.4 1196.8 L1149.4 1196.5 L1146.4 1196.2 L1143.4 1195.9 L1140.4 1195.5 L1137.4 1195.2 L1134.4 1194.9 L1131.4 1194.6 L1128.4 1194.3 L1125.4 1194.0 L1122.4 1193.7 L1119.4 1193.4 L1116.5 1193.1 L1113.5 1192.8 L1110.5 1192.5 L1107.5 1192.2 L1104.5 1191.9 L1101.5 1191.6 L1098.5 1191.3 L1095.5 1191.0 L1092.5 1190.7 L1089.5 1190.4 L1086.5 1190.2 L1083.5 1189.9 L1080.5 1189.6 L1077.5 1189.3 L1074.5 1189.1 L1071.5 1188.8 L1068.5 1188.6 L1065.5 1188.3 L1062.5 1188.1 L1059.5 1187.8 L1056.5 1187.6 L1053.5 1187.4 L1050.5 1187.2 L1047.5 1186.9 L1044.5 1186.7 L1041.5 1186.5 L1038.5 1186.3 L1035.5 1186.1 L1032.5 1185.9 L1029.5 1185.7 L1026.5 1185.6 L1023.5 1185.4 L1020.5 1185.2 L1017.5 1185.0 L1014.5 1184.9 L1011.5 1184.7 L1008.5 1184.6 L1005.5 1184.4 L1002.5 1184.3 L999.5 1184.1 L996.5 1184.0 L993.5 1183.9 L990.5 1183.7 L987.5 1183.6 L984.5 1183.5 L981.5 1183.4 L978.5 1183.3 L975.5 1183.1 L972.5 1183.0 L969.5 1182.9 L966.4 1182.8 L963.4 1182.8 L960.4 1182.7 L957.4 1182.6 L954.4 1182.5 L951.4 1182.4 L948.4 1182.4 L945.4 1182.3 L942.4 1182.2 L939.4 1182.2 L936.4 1182.1 L933.4 1182.1 L930.4 1182.0 L927.4 1182.0 L924.4 1181.9 L921.4 1181.9 L918.4 1181.9 L915.4 1181.8 L912.4 1181.8 L909.4 1181.8 L906.4 1181.8 L903.4 1181.8 L900.4 1181.7 L897.4 1181.7 L894.4 1181.7 L891.4 1181.7 L888.3 1181.7 L885.3 1181.7 L882.3 1181.7 L879.3 1181.8 L876.3 1181.8 L873.3 1181.8 L870.3 1181.8 L867.3 1181.8 L864.3 1181.9 L861.3 1181.9 L858.3 1181.9 L855.3 1182.0 L852.3 1182.0 L849.3 1182.0 L846.3 1182.1 L843.3 1182.1 L840.3 1182.2 L837.3 1182.2 L834.2 1182.3 L831.2 1182.3 L828.2 1182.4 L825.2 1182.5 L822.2 1182.5 L819.2 1182.6 L816.2 1182.7 L813.2 1182.7 L810.2 1182.8 L807.2 1182.9 L804.2 1183.0 L801.2 1183.1 L798.2 1183.2 L795.2 1183.2 L792.2 1183.3 L789.2 1183.4 L786.1 1183.5 L783.1 1183.6 L780.1 1183.7 L777.1 1183.8 L774.1 1183.9 L771.1 1184.0 L768.1 1184.1 L765.1 1184.2 L762.1 1184.4 L759.1 1184.5 L756.1 1184.6 L753.1 1184.7 L750.1 1184.8 L747.1 1184.9 L744.0 1185.1 L741.0 1185.2 L738.0 1185.3 L735.0 1185.4 L732.0 1185.6 L729.0 1185.7 L726.0 1185.8 L723.0 1186.0 L720.0 1186.1 L717.0 1186.2 L714.0 1186.4 L711.0 1186.5 L708.0 1186.7 L704.9 1186.8 L701.9 1187.0 L698.9 1187.1 L695.9 1187.2 L692.9 1187.4 L689.9 1187.5 L686.9 1187.7 L683.9 1187.8 L680.9 1188.0 L677.9 1188.2 L674.9 1188.3 L671.9 1188.5 L668.9 1188.6 L665.9 1188.8 L662.8 1188.9 L659.8 1189.1 L656.8 1189.3 L653.8 1189.4 L650.8 1189.6 L647.8 1189.8 L644.8 1189.9 L641.8 1190.1 L638.8 1190.2 L635.8 1190.4 L632.8 1190.6 L629.8 1190.7 L626.8 1190.9 L623.7 1191.1 L620.7 1191.3 L617.7 1191.4 L614.7 1191.6 L611.7 1191.8 L608.7 1191.9 L605.7 1192.1 L602.7 1192.3 L599.7 1192.4 L596.7 1192.6 L593.7 1192.8 L590.7 1193.0 L587.7 1193.1 L584.6 1193.3 L581.6 1193.5 L578.6 1193.7 L575.6 1193.8 L572.6 1194.0 L569.6 1194.2 L566.6 1194.3 L563.6 1194.5 L560.6 1194.7 L557.6 1194.9 L554.6 1195.0 L551.6 1195.2 L548.6 1195.4 L545.6 1195.5 L542.6 1195.7 L539.5 1195.9 L536.5 1196.1 L533.5 1196.2 L530.5 1196.4 L527.5 1196.6 L524.5 1196.7 L521.5 1196.9 L518.5 1197.1 L515.5 1197.2 L512.5 1197.4 L509.5 1197.6 L506.5 1197.7 L503.5 1197.9 L500.5 1198.1 L497.5 1198.2 L494.4 1198.4 L491.4 1198.5 L488.4 1198.7 L485.4 1198.9 L482.4 1199.0 L479.4 1199.2 L476.4 1199.3 L473.4 1199.5 L470.4 1199.6 L467.4 1199.8 L464.4 1199.9 L461.4 1200.1 L458.4 1200.2 L455.4 1200.4 L452.4 1200.5 L449.4 1200.7 L446.4 1200.8 L443.4 1201.0 L440.3 1201.1 L437.3 1201.2 L434.3 1201.4 L431.3 1201.5 L428.3 1201.6 L425.3 1201.8 L422.3 1201.9 L419.3 1202.0 L416.3 1202.2 L413.3 1202.3 L410.3 1202.4 L407.3 1202.5 L404.3 1202.7 L401.3 1202.8 L398.3 1202.9 L395.3 1203.0 L392.3 1203.1 L389.3 1203.2 L386.3 1203.3 L383.3 1203.5 L380.3 1203.6 L377.3 1203.7 L374.3 1203.8 L371.3 1203.9 L368.2 1204.0 L365.2 1204.1 L362.2 1204.2 L359.2 1204.2 L356.2 1204.3 L353.2 1204.4 L350.2 1204.5 L347.2 1204.6 L344.2 1204.7 L341.2 1204.7 L338.2 1204.8 L335.2 1204.9 L332.2 1205.0 L329.2 1205.0 L326.2 1205.1 L323.2 1205.1 L320.2 1205.2 L317.2 1205.3 L314.2 1205.3 L311.2 1205.4 L308.2 1205.4 L305.2 1205.5 L302.2 1205.5 L299.2 1205.5 L296.2 1205.6 L293.2 1205.6 L290.2 1205.6 L287.2 1205.7 L284.2 1205.7 L281.2 1205.7 L278.2 1205.7 L275.2 1205.7 L272.2 1205.7 L269.2 1205.8 L266.2 1205.8 L263.2 1205.8 L260.2 1205.8" fill="none" stroke="#ff8e1c" stroke-width="5.0" stroke-linejoin="round" stroke-linecap="round"/>
<path d="M259.9 1123.8 L262.4 1122.6 L264.9 1121.5 L267.5 1120.4 L270.1 1119.4 L272.8 1118.5 L275.5 1117.7 L278.2 1116.9 L281.0 1116.1 L283.8 1115.5 L286.6 1114.8 L289.4 1114.2 L292.3 1113.7 L295.2 1113.2 L298.1 1112.7 L301.0 1112.3 L304.0 1111.9 L306.9 1111.6 L309.9 1111.3 L312.9 1111.0 L315.9 1110.7 L318.9 1110.4 L321.9 1110.2 L325.0 1110.0 L328.0 1109.7 L331.0 1109.5 L334.1 1109.3 L337.1 1109.2 L340.2 1109.0 L343.2 1108.8 L346.3 1108.6 L349.3 1108.4 L352.3 1108.2 L355.4 1108.0 L358.4 1107.8 L361.4 1107.6 L364.4 1107.4 L367.5 1107.2 L370.5 1106.9 L373.5 1106.7 L376.5 1106.5 L379.6 1106.3 L382.6 1106.1 L385.6 1105.9 L388.6 1105.7 L391.6 1105.5 L394.6 1105.2 L397.7 1105.0 L400.7 1104.8 L403.7 1104.6 L406.7 1104.4 L409.7 1104.1 L412.7 1103.9 L415.7 1103.7 L418.7 1103.5 L421.7 1103.2 L424.7 1103.0 L427.7 1102.8 L430.7 1102.6 L433.7 1102.3 L436.7 1102.1 L439.7 1101.9 L442.7 1101.7 L445.7 1101.4 L448.7 1101.2 L451.7 1101.0 L454.7 1100.7 L457.6 1100.5 L460.6 1100.3 L463.6 1100.0 L466.6 1099.8 L469.6 1099.6 L472.6 1099.4 L475.6 1099.1 L478.6 1098.9 L481.5 1098.7 L484.5 1098.4 L487.5 1098.2 L490.5 1098.0 L493.5 1097.7 L496.5 1097.5 L499.4 1097.3 L502.4 1097.0 L505.4 1096.8 L508.4 1096.6 L511.4 1096.4 L514.4 1096.1 L517.3 1095.9 L520.3 1095.7 L523.3 1095.4 L526.3 1095.2 L529.3 1095.0 L532.2 1094.8 L535.2 1094.5 L538.2 1094.3 L541.2 1094.1 L544.1 1093.9 L547.1 1093.7 L550.1 1093.4 L553.1 1093.2 L556.1 1093.0 L559.0 1092.8 L562.0 1092.6 L565.0 1092.3 L568.0 1092.1 L571.0 1091.9 L574.0 1091.7 L576.9 1091.5 L579.9 1091.3 L582.9 1091.1 L585.9 1090.9 L588.9 1090.6 L591.9 1090.4 L594.8 1090.2 L597.8 1090.0 L600.8 1089.8 L603.8 1089.6 L606.8 1089.4 L609.8 1089.2 L612.8 1089.0 L615.8 1088.8 L618.7 1088.7 L621.7 1088.5 L624.7 1088.3 L627.7 1088.1 L630.7 1087.9 L633.7 1087.7 L636.7 1087.5 L639.7 1087.4 L642.7 1087.2 L645.7 1087.0 L648.7 1086.8 L651.7 1086.6 L654.7 1086.5 L657.7 1086.3 L660.7 1086.1 L663.7 1086.0 L666.7 1085.8 L669.7 1085.6 L672.7 1085.5 L675.7 1085.3 L678.7 1085.1 L681.7 1085.0 L684.7 1084.8 L687.7 1084.6 L690.8 1084.5 L693.8 1084.3 L696.8 1084.1 L699.8 1084.0 L702.8 1083.8 L705.8 1083.7 L708.8 1083.5 L711.8 1083.3 L714.8 1083.2 L717.9 1083.0 L720.9 1082.9 L723.9 1082.7 L726.9 1082.5 L729.9 1082.4 L732.9 1082.2 L735.9 1082.0 L738.9 1081.9 L742.0 1081.7 L745.0 1081.5 L748.0 1081.4 L751.0 1081.2 L754.0 1081.0 L757.0 1080.9 L760.1 1080.7 L763.1 1080.5 L766.1 1080.4 L769.1 1080.2 L772.1 1080.0 L775.1 1079.9 L778.1 1079.7 L781.2 1079.5 L784.2 1079.3 L787.2 1079.1 L790.2 1079.0 L793.2 1078.8 L796.2 1078.6 L799.3 1078.4 L802.3 1078.2 L805.3 1078.0 L808.3 1077.8 L811.3 1077.6 L814.3 1077.4 L817.3 1077.2 L820.4 1077.0 L823.4 1076.8 L826.4 1076.6 L829.4 1076.4 L832.4 1076.2 L835.4 1076.0 L838.4 1075.8 L841.4 1075.6 L844.5 1075.4 L847.5 1075.1 L850.5 1074.9 L853.5 1074.7 L856.5 1074.4 L859.5 1074.2 L862.5 1074.0 L865.5 1073.7 L868.5 1073.5 L871.5 1073.2 L874.5 1073.0 L877.6 1072.7 L880.6 1072.5 L883.6 1072.2 L886.6 1072.0 L889.6 1071.7 L892.6 1071.4 L895.6 1071.1 L898.6 1070.9 L901.6 1070.6 L904.6 1070.3 L907.6 1070.0 L910.6 1069.7 L913.6 1069.4 L916.6 1069.1 L919.6 1068.8 L922.6 1068.5 L925.6 1068.2 L928.5 1067.8 L931.5 1067.5 L934.5 1067.2 L937.5 1066.8 L940.5 1066.5 L943.5 1066.2 L946.5 1065.8 L949.5 1065.5 L952.5 1065.1 L955.4 1064.7 L958.4 1064.4 L961.4 1064.0 L964.4 1063.6 L967.4 1063.2 L970.4 1062.8 L973.3 1062.4 L976.3 1062.0 L979.3 1061.6 L982.3 1061.2 L985.2 1060.8 L988.2 1060.4 L991.2 1060.0 L994.1 1059.5 L997.1 1059.1 L1000.1 1058.6 L1003.0 1058.2 L1006.0 1057.7 L1009.0 1057.3 L1011.9 1056.8 L1014.9 1056.3 L1017.8 1055.8 L1020.8 1055.3 L1023.8 1054.8 L1026.7 1054.3 L1029.7 1053.8 L1032.6 1053.3 L1035.6 1052.8 L1038.5 1052.3 L1041.4 1051.7 L1044.4 1051.2 L1047.3 1050.6 L1050.3 1050.1 L1053.2 1049.5 L1056.2 1048.9 L1059.1 1048.4 L1062.0 1047.8 L1065.0 1047.2 L1067.9 1046.6 L1070.8 1046.0 L1073.7 1045.4 L1076.7 1044.7 L1079.6 1044.1 L1082.5 1043.5 L1085.4 1042.8 L1088.4 1042.2 L1091.3 1041.5 L1094.2 1040.8 L1097.1 1040.2 L1100.0 1039.5 L1102.9 1038.8 L1105.8 1038.1 L1108.7 1037.4 L1111.6 1036.6 L1114.5 1035.9 L1117.4 1035.2 L1120.3 1034.4 L1123.2 1033.7 L1126.1 1032.9 L1129.0 1032.2 L1131.9 1031.4 L1134.8 1030.6 L1137.7 1029.8 L1140.5 1029.0 L1143.4 1028.2 L1146.3 1027.3 L1149.2 1026.5 L1152.0 1025.7 L1154.9 1024.8 L1157.8 1024.0 L1160.6 1023.1 L1163.5 1022.2 L1166.4 1021.3 L1169.2 1020.4 L1172.1 1019.5 L1174.9 1018.6 L1177.8 1017.7 L1180.6 1016.7 L1183.5 1015.8 L1186.3 1014.8 L1189.2 1013.9 L1192.0 1012.9 L1194.8 1011.9 L1197.7 1010.9 L1200.5 1009.9 L1203.3 1008.9 L1206.2 1007.8 L1209.0 1006.8 L1211.8 1005.7 L1214.6 1004.7 L1217.4 1003.6 L1220.2 1002.5 L1223.1 1001.4 L1225.9 1000.3 L1228.7 999.2 L1231.5 998.1 L1234.3 997.0 L1237.1 995.8 L1239.8 994.7 L1242.6 993.5 L1245.4 992.3 L1248.2 991.1 L1251.0 989.9 L1253.8 988.7 L1256.5 987.5 L1259.3 986.2 L1262.0 984.9 L1264.8 983.6 L1267.5 982.3 L1270.1 980.9 L1272.8 979.5 L1275.4 978.1 L1278.0 976.6 L1280.6 975.1 L1283.1 973.5 L1285.6 971.9 L1288.0 970.2 L1290.4 968.4 L1292.7 966.6 L1294.9 964.7 L1297.1 962.8 L1299.3 960.8 L1301.4 958.7 L1303.4 956.5 L1305.3 954.3 L1307.2 951.9 L1309.0 949.5 L1310.7 947.0 L1312.4 944.5 L1314.0 941.9 L1315.5 939.2 L1317.0 936.5 L1318.5 933.8 L1319.9 931.0 L1321.3 928.2 L1322.6 925.4 L1323.9 922.6 L1325.2 919.8 L1326.5 917.0 L1327.8 914.2 L1329.0 911.5 L1330.2 908.7 L1331.4 905.9 L1332.6 903.1 L1333.8 900.3 L1335.0 897.5 L1336.2 894.8 L1337.3 892.0 L1338.5 889.3 L1339.6 886.5 L1340.8 883.8 L1342.0 881.0 L1343.1 878.3 L1344.3 875.6 L1345.4 872.8 L1346.6 870.1 L1347.8 867.4 L1349.0 864.7 L1350.2 862.0 L1351.4 859.4 L1352.7 856.7 L1353.9 854.0 L1355.1 851.3 L1356.3 848.6 L1357.5 846.0 L1358.7 843.3 L1359.9 840.6 L1361.1 837.8 L1362.2 835.1 L1363.3 832.3 L1364.4 829.6 L1365.4 826.8 L1366.4 823.9 L1367.4 821.1 L1368.3 818.2 L1369.2 815.3 L1370.1 812.4 L1370.9 809.5 L1371.8 806.5 L1372.6 803.6 L1373.4 800.6 L1374.2 797.7 L1374.9 794.7 L1375.7 791.7 L1376.5 788.7 L1377.3 785.8 L1378.1 782.8 L1378.9 779.8 L1379.7 776.9 L1380.5 773.9 L1381.4 771.0 L1382.3 768.1 L1383.2 765.2 L1384.1 762.3 L1385.1 759.4 L1386.1 756.6 L1387.2 753.8 L1388.3 751.0 L1389.4 748.3 L1390.6 745.6 L1391.9 742.9 L1393.2 740.3 L1394.5 737.6 L1395.9 735.0 L1397.3 732.4 L1398.7 729.9 L1400.1 727.3 L1401.5 724.6 L1402.9 722.0 L1404.2 719.4 L1405.6 716.7 L1406.9 713.9 L1408.1 711.2 L1409.3 708.3 L1410.5 705.5 L1411.6 702.6 L1412.8 699.8 L1414.0 696.9 L1415.2 694.0 L1416.4 691.2 L1417.7 688.3 L1419.0 685.6 L1420.4 682.8 L1421.9 680.1 L1423.5 677.5 L1425.2 675.0 L1427.1 672.5 L1429.0 670.2 L1431.1 668.2 L1433.3 666.4 L1435.6 664.8 L1438.0 663.7 L1440.6 662.9 L1443.2 662.4 L1445.9 662.2 L1448.7 662.4 L1451.5 662.8 L1454.4 663.4 L1457.2 664.4 L1460.0 665.5 L1462.8 666.8 L1465.6 668.3 L1468.2 670.0 L1470.8 671.8 L1473.4 673.6 L1476.0 675.5 L1478.5 677.4 L1481.0 679.2 L1483.6 680.9 L1486.2 682.5 L1488.8 683.9 L1491.5 685.1 L1494.2 686.2 L1497.0 687.0 L1499.8 687.7 L1502.6 688.2 L1505.5 688.5 L1508.4 688.7 L1511.4 688.7 L1514.3 688.6 L1517.3 688.4 L1520.3 688.1 L1523.2 687.7 L1526.2 687.1 L1529.2 686.5 L1532.2 685.8 L1535.2 685.0 L1538.2 684.1 L1541.1 683.2 L1544.0 682.2 L1547.0 681.2 L1549.8 680.1 L1552.7 679.0 L1555.5 677.9 L1558.3 676.7 L1561.1 675.6 L1563.9 674.3 L1566.6 673.1 L1569.3 671.9 L1572.0 670.6 L1574.7 669.3 L1577.3 668.0 L1580.0 666.7 L1582.6 665.3 L1585.3 664.0 L1587.9 662.6 L1590.5 661.3 L1593.2 659.9 L1595.8 658.5 L1598.4 657.1 L1601.0 655.7 L1603.7 654.2 L1606.3 652.8 L1608.9 651.4 L1611.5 650.0 L1614.2 648.5 L1616.8 647.1 L1619.4 645.6 L1622.1 644.1 L1624.7 642.7 L1627.3 641.2 L1629.9 639.7 L1632.5 638.2 L1635.2 636.7 L1637.8 635.2 L1640.4 633.7 L1643.0 632.1 L1645.6 630.6 L1648.2 629.0 L1650.8 627.5 L1653.4 625.9 L1656.0 624.3 L1658.6 622.8 L1661.1 621.2 L1663.7 619.6 L1666.3 618.0 L1668.8 616.3 L1671.4 614.7 L1674.0 613.1 L1676.5 611.4 L1679.0 609.7 L1681.6 608.1 L1684.1 606.4 L1686.6 604.7 L1689.1 603.0 L1691.6 601.3 L1694.1 599.6 L1696.6 597.8 L1699.0 596.1 L1701.5 594.3 L1703.9 592.5 L1706.4 590.8 L1708.8 589.0 L1711.2 587.2 L1713.7 585.4 L1716.0 583.5 L1718.4 581.7 L1720.8 579.8 L1723.2 578.0 L1725.5 576.1 L1727.9 574.2 L1730.2 572.3 L1732.5 570.4 L1734.8 568.5 L1737.1 566.5 L1739.4 564.6 L1741.6 562.6 L1743.9 560.6 L1746.1 558.6 L1748.3 556.6 L1750.5 554.6 L1752.7 552.6 L1754.9 550.5 L1757.0 548.5 L1759.1 546.4 L1761.3 544.3 L1763.4 542.2 L1765.4 540.1 L1767.5 538.0 L1769.6 535.8 L1771.6 533.7 L1773.6 531.5 L1775.6 529.3 L1777.6 527.1 L1779.5 524.9 L1781.5 522.6 L1783.4 520.4 L1785.3 518.1 L1787.2 515.8 L1789.0 513.5 L1790.8 511.2 L1792.7 508.9 L1794.4 506.5 L1796.2 504.2 L1798.0 501.8 L1799.7 499.4 L1801.4 497.0 L1803.1 494.5 L1804.7 492.1 L1806.4 489.6 L1808.0 487.2 L1809.6 484.7 L1811.1 482.1 L1812.7 479.6 L1814.2 477.1 L1815.7 474.5 L1817.2 471.9 L1818.6 469.3 L1820.0 466.7 L1821.4 464.0 L1822.8 461.4 L1824.1 458.7 L1825.4 456.0 L1826.7 453.3 L1828.0 450.6 L1829.2 447.9 L1830.5 445.1 L1831.7 442.4 L1832.9 439.6 L1834.0 436.8 L1835.2 434.0 L1836.3 431.2 L1837.5 428.4 L1838.6 425.5 L1839.7 422.7 L1840.7 419.9 L1841.8 417.0 L1842.9 414.1 L1843.9 411.3 L1845.0 408.4 L1846.0 405.5 L1847.0 402.6 L1848.0 399.8 L1849.0 396.9 L1850.0 394.0 L1851.0 391.1 L1852.0 388.2 L1853.0 385.3 L1854.0 382.4 L1854.9 379.5 L1855.9 376.6 L1856.9 373.7 L1857.9 370.8 L1858.9 367.9 L1859.8 365.0 L1860.8 362.1 L1861.8 359.2 L1862.8 356.4 L1863.8 353.5 L1864.8 350.6 L1865.8 347.8 L1866.8 344.9 L1867.8 342.1 L1868.9 339.2 L1869.9 336.4 L1871.0 333.6 L1872.0 330.8 L1873.1 328.0 L1874.1 325.2 L1875.2 322.4 L1876.3 319.6 L1877.4 316.8 L1878.5 314.0 L1879.5 311.3 L1880.6 308.5 L1881.7 305.7 L1882.8 303.0 L1883.9 300.2 L1885.0 297.4 L1886.1 294.7 L1887.3 291.9 L1888.4 289.2 L1889.5 286.4 L1890.6 283.7 L1891.7 280.9 L1892.8 278.2 L1893.9 275.4 L1895.0 272.7 L1896.1 269.9 L1897.2 267.1 L1898.3 264.4 L1899.4 261.6 L1900.4 258.8 L1901.5 256.1 L1902.6 253.3 L1903.7 250.5 L1904.7 247.7 L1905.8 245.0 L1906.8 242.2 L1907.9 239.4 L1908.9 236.6 L1909.9 233.8 L1911.0 230.9 L1912.0 228.1 L1913.0 225.3 L1914.0 222.5 L1914.9 219.6 L1915.9 216.8 L1916.9 213.9 L1917.8 211.0 L1918.8 208.2 L1919.7 205.3 L1920.7 202.4 L1921.7 199.5 L1922.6 196.7 L1923.6 193.8 L1924.5 190.9 L1925.5 188.0 L1926.4 185.2 L1927.4 182.3 L1928.4 179.4 L1929.3 176.5 L1930.3 173.7 L1931.3 170.8 L1932.3 167.9 L1933.3 165.1 L1934.4 162.2 L1935.4 159.4 L1936.4 156.6 L1937.5 153.7 L1938.6 150.9 L1939.7 148.1 L1940.8 145.3 L1942.0 142.5 L1943.1 139.8 L1944.3 137.0 L1945.5 134.2 L1946.7 131.5 L1948.0 128.8 L1949.3 126.1 L1950.6 123.4 L1951.9 120.7 L1953.2 118.0 L1954.6 115.4 L1956.0 112.8 L1957.5 110.2 L1959.0 107.6 L1960.5 105.0" fill="none" stroke="#1d8f8f" stroke-width="5.0" stroke-linejoin="round" stroke-linecap="round"/>
<path d="M1960.4 104.9 L1960.2 107.9 L1959.9 111.0 L1959.6 114.0 L1959.4 117.1 L1959.1 120.1 L1958.8 123.2 L1958.6 126.2 L1958.3 129.2 L1958.0 132.3 L1957.7 135.3 L1957.4 138.3 L1957.2 141.4 L1956.9 144.4 L1956.6 147.4 L1956.3 150.4 L1956.0 153.5 L1955.7 156.5 L1955.4 159.5 L1955.1 162.5 L1954.8 165.5 L1954.5 168.5 L1954.2 171.6 L1953.9 174.6 L1953.6 177.6 L1953.3 180.6 L1953.0 183.6 L1952.6 186.6 L1952.3 189.6 L1952.0 192.6 L1951.7 195.6 L1951.4 198.6 L1951.0 201.6 L1950.7 204.6 L1950.4 207.5 L1950.1 210.5 L1949.7 213.5 L1949.4 216.5 L1949.0 219.5 L1948.7 222.5 L1948.4 225.5 L1948.0 228.4 L1947.7 231.4 L1947.3 234.4 L1947.0 237.4 L1946.7 240.3 L1946.3 243.3 L1946.0 246.3 L1945.6 249.3 L1945.2 252.2 L1944.9 255.2 L1944.5 258.2 L1944.2 261.1 L1943.8 264.1 L1943.5 267.1 L1943.1 270.0 L1942.7 273.0 L1942.4 276.0 L1942.0 278.9 L1941.6 281.9 L1941.3 284.8 L1940.9 287.8 L1940.5 290.8 L1940.1 293.7 L1939.8 296.7 L1939.4 299.6 L1939.0 302.6 L1938.6 305.5 L1938.3 308.5 L1937.9 311.4 L1937.5 314.4 L1937.1 317.4 L1936.7 320.3 L1936.3 323.3 L1936.0 326.2 L1935.6 329.2 L1935.2 332.1 L1934.8 335.1 L1934.4 338.0 L1934.0 341.0 L1933.6 343.9 L1933.2 346.8 L1932.8 349.8 L1932.4 352.7 L1932.0 355.7 L1931.6 358.6 L1931.2 361.6 L1930.8 364.5 L1930.4 367.5 L1930.0 370.4 L1929.6 373.4 L1929.2 376.3 L1928.8 379.2 L1928.4 382.2 L1928.0 385.1 L1927.6 388.1 L1927.2 391.0 L1926.8 394.0 L1926.4 396.9 L1926.0 399.9 L1925.6 402.8 L1925.2 405.8 L1924.8 408.7 L1924.4 411.6 L1924.0 414.6 L1923.6 417.5 L1923.1 420.5 L1922.7 423.4 L1922.3 426.4 L1921.9 429.3 L1921.5 432.3 L1921.1 435.2 L1920.7 438.2 L1920.3 441.1 L1919.8 444.1 L1919.4 447.0 L1919.0 450.0 L1918.6 452.9 L1918.2 455.9 L1917.8 458.8 L1917.4 461.8 L1916.9 464.7 L1916.5 467.7 L1916.1 470.6 L1915.7 473.6 L1915.3 476.5 L1914.9 479.5 L1914.4 482.5 L1914.0 485.4 L1913.6 488.4 L1913.2 491.3 L1912.8 494.3 L1912.4 497.3 L1911.9 500.2 L1911.5 503.2 L1911.1 506.1 L1910.7 509.1 L1910.3 512.1 L1909.9 515.0 L1909.4 518.0 L1909.0 521.0 L1908.6 524.0 L1908.2 526.9 L1907.8 529.9 L1907.4 532.9 L1907.0 535.9 L1906.5 538.8 L1906.1 541.8 L1905.7 544.8 L1905.3 547.8 L1904.9 550.7 L1904.5 553.7 L1904.1 556.7 L1903.6 559.7 L1903.2 562.7 L1902.8 565.7 L1902.4 568.7 L1902.0 571.7 L1901.6 574.6 L1901.2 577.6 L1900.8 580.6 L1900.4 583.6 L1900.0 586.6 L1899.5 589.6 L1899.1 592.6 L1898.7 595.6 L1898.3 598.6 L1897.9 601.6 L1897.5 604.6 L1897.1 607.6 L1896.7 610.6 L1896.2 613.7 L1895.8 616.7 L1895.4 619.7 L1895.0 622.7 L1894.6 625.7 L1894.1 628.7 L1893.7 631.7 L1893.3 634.7 L1892.9 637.7 L1892.4 640.7 L1892.0 643.7 L1891.6 646.7 L1891.2 649.7 L1890.7 652.8 L1890.3 655.8 L1889.8 658.8 L1889.4 661.8 L1889.0 664.8 L1888.5 667.8 L1888.1 670.8 L1887.6 673.8 L1887.2 676.8 L1886.7 679.8 L1886.2 682.8 L1885.8 685.9 L1885.3 688.9 L1884.8 691.9 L1884.4 694.9 L1883.9 697.9 L1883.4 700.9 L1882.9 703.9 L1882.5 706.9 L1882.0 709.9 L1881.5 712.9 L1881.0 715.9 L1880.5 718.9 L1880.0 721.9 L1879.5 724.9 L1879.0 727.9 L1878.4 730.9 L1877.9 733.9 L1877.4 736.9 L1876.9 739.8 L1876.3 742.8 L1875.8 745.8 L1875.3 748.8 L1874.7 751.8 L1874.2 754.8 L1873.6 757.8 L1873.0 760.7 L1872.5 763.7 L1871.9 766.7 L1871.3 769.7 L1870.7 772.6 L1870.1 775.6 L1869.6 778.6 L1869.0 781.5 L1868.3 784.5 L1867.7 787.5 L1867.1 790.4 L1866.5 793.4 L1865.9 796.3 L1865.2 799.3 L1864.6 802.3 L1863.9 805.2 L1863.3 808.1 L1862.6 811.1 L1862.0 814.0 L1861.3 817.0 L1860.6 819.9 L1859.9 822.8 L1859.2 825.8 L1858.5 828.7 L1857.8 831.6 L1857.1 834.5 L1856.4 837.5 L1855.7 840.4 L1854.9 843.3 L1854.2 846.2 L1853.4 849.1 L1852.7 852.0 L1851.9 854.9 L1851.1 857.8 L1850.3 860.7 L1849.6 863.6 L1848.8 866.5 L1848.0 869.4 L1847.1 872.3 L1846.3 875.1 L1845.5 878.0 L1844.6 880.9 L1843.8 883.7 L1842.9 886.6 L1842.1 889.5 L1841.2 892.3 L1840.3 895.2 L1839.4 898.0 L1838.5 900.9 L1837.6 903.7 L1836.7 906.5 L1835.8 909.4 L1834.8 912.2 L1833.9 915.0 L1832.9 917.8 L1832.0 920.7 L1831.0 923.5 L1830.0 926.3 L1829.0 929.1 L1828.0 931.9 L1827.0 934.7 L1826.0 937.4 L1824.9 940.2 L1823.9 943.0 L1822.8 945.8 L1821.7 948.5 L1820.7 951.3 L1819.6 954.1 L1818.5 956.8 L1817.4 959.6 L1816.3 962.3 L1815.1 965.1 L1814.0 967.8 L1812.8 970.5 L1811.7 973.2 L1810.5 976.0 L1809.3 978.7 L1808.1 981.4 L1806.9 984.1 L1805.7 986.8 L1804.4 989.5 L1803.2 992.2 L1801.9 994.8 L1800.7 997.5 L1799.4 1000.2 L1798.1 1002.8 L1796.8 1005.5 L1795.5 1008.1 L1794.1 1010.8 L1792.8 1013.4 L1791.4 1016.1 L1790.1 1018.7 L1788.7 1021.3 L1787.3 1023.9 L1785.9 1026.5 L1784.5 1029.1 L1783.0 1031.7 L1781.6 1034.3 L1780.1 1036.9 L1778.7 1039.5 L1777.2 1042.1 L1775.7 1044.6 L1774.2 1047.2 L1772.6 1049.7 L1771.1 1052.3 L1769.5 1054.8 L1768.0 1057.3 L1766.4 1059.9 L1764.8 1062.4 L1763.2 1064.9 L1761.6 1067.4 L1759.9 1069.9 L1758.3 1072.4 L1756.6 1074.8 L1755.0 1077.3 L1753.3 1079.8 L1751.6 1082.2 L1749.9 1084.7 L1748.1 1087.1 L1746.4 1089.5 L1744.6 1091.9 L1742.9 1094.3 L1741.1 1096.7 L1739.3 1099.1 L1737.5 1101.5 L1735.7 1103.8 L1733.8 1106.2 L1732.0 1108.5 L1730.1 1110.9 L1728.2 1113.2 L1726.3 1115.5 L1724.4 1117.8 L1722.5 1120.1 L1720.6 1122.4 L1718.6 1124.7 L1716.7 1126.9 L1714.7 1129.2 L1712.7 1131.4 L1710.7 1133.6 L1708.7 1135.8 L1706.7 1138.0 L1704.6 1140.2 L1702.6 1142.4 L1700.5 1144.5 L1698.4 1146.7 L1696.3 1148.8 L1694.2 1151.0 L1692.1 1153.1 L1689.9 1155.2 L1687.8 1157.3 L1685.6 1159.3 L1683.4 1161.4 L1681.2 1163.4 L1679.0 1165.5 L1676.8 1167.5 L1674.5 1169.5 L1672.3 1171.5 L1670.0 1173.4 L1667.7 1175.4 L1665.4 1177.3 L1663.1 1179.3 L1660.8 1181.2 L1658.5 1183.1 L1656.1 1185.0 L1653.7 1186.8 L1651.4 1188.7 L1649.0 1190.5 L1646.5 1192.4 L1644.1 1194.2 L1641.7 1196.0 L1639.2 1197.7 L1636.8 1199.5 L1634.3 1201.2 L1631.8 1203.0 L1629.3 1204.7 L1626.8 1206.4 L1624.3 1208.1 L1621.8 1209.7 L1619.2 1211.4 L1616.6 1213.0 L1614.1 1214.6 L1611.5 1216.2 L1608.9 1217.8 L1606.3 1219.4 L1603.7 1220.9 L1601.1 1222.5 L1598.4 1224.0 L1595.8 1225.5 L1593.1 1227.0 L1590.5 1228.4 L1587.8 1229.9 L1585.1 1231.3 L1582.4 1232.7 L1579.7 1234.1 L1577.0 1235.5 L1574.3 1236.9 L1571.5 1238.2 L1568.8 1239.6 L1566.1 1240.9 L1563.3 1242.2 L1560.5 1243.5 L1557.8 1244.7 L1555.0 1246.0 L1552.2 1247.2 L1549.4 1248.4 L1546.6 1249.6 L1543.8 1250.8 L1541.0 1251.9 L1538.2 1253.1 L1535.3 1254.2 L1532.5 1255.3 L1529.7 1256.4 L1526.8 1257.4 L1524.0 1258.5 L1521.1 1259.5 L1518.3 1260.5 L1515.4 1261.5 L1512.5 1262.5 L1509.6 1263.4 L1506.8 1264.4 L1503.9 1265.3 L1501.0 1266.2 L1498.1 1267.1 L1495.2 1267.9 L1492.3 1268.8 L1489.4 1269.6 L1486.5 1270.4 L1483.6 1271.2 L1480.6 1271.9 L1477.7 1272.7 L1474.8 1273.4 L1471.9 1274.1 L1468.9 1274.8 L1466.0 1275.5 L1463.1 1276.1 L1460.1 1276.8 L1457.2 1277.4 L1454.3 1278.0 L1451.3 1278.5 L1448.4 1279.1 L1445.4 1279.6 L1442.5 1280.1 L1439.6 1280.6 L1436.6 1281.1 L1433.7 1281.6 L1430.7 1282.0 L1427.7 1282.4 L1424.8 1282.8 L1421.8 1283.2 L1418.9 1283.5 L1415.9 1283.9 L1413.0 1284.2 L1410.0 1284.5 L1407.1 1284.8 L1404.1 1285.0 L1401.1 1285.3 L1398.2 1285.5 L1395.2 1285.7 L1392.2 1285.9 L1389.3 1286.0 L1386.3 1286.2 L1383.4 1286.3 L1380.4 1286.4 L1377.4 1286.5 L1374.5 1286.5 L1371.5 1286.6 L1368.5 1286.6 L1365.6 1286.6 L1362.6 1286.6 L1359.6 1286.5 L1356.7 1286.5 L1353.7 1286.4 L1350.7 1286.3 L1347.8 1286.2 L1344.8 1286.0 L1341.9 1285.9 L1338.9 1285.7 L1335.9 1285.5 L1333.0 1285.3 L1330.0 1285.1 L1327.1 1284.8 L1324.1 1284.6 L1321.1 1284.3 L1318.2 1284.0 L1315.2 1283.6 L1312.3 1283.3 L1309.3 1283.0 L1306.4 1282.6 L1303.4 1282.2 L1300.4 1281.8 L1297.5 1281.4 L1294.5 1281.0 L1291.6 1280.6 L1288.6 1280.1 L1285.7 1279.7 L1282.7 1279.2 L1279.8 1278.7 L1276.8 1278.2 L1273.9 1277.7 L1270.9 1277.2 L1268.0 1276.7 L1265.0 1276.2 L1262.1 1275.7 L1259.1 1275.1 L1256.2 1274.6 L1253.2 1274.0 L1250.3 1273.5 L1247.3 1272.9 L1244.4 1272.4 L1241.4 1271.8 L1238.5 1271.2 L1235.5 1270.6 L1232.6 1270.1 L1229.6 1269.5 L1226.7 1268.9 L1223.7 1268.3 L1220.8 1267.7 L1217.8 1267.1 L1214.9 1266.5 L1211.9 1266.0 L1208.9 1265.4 L1206.0 1264.8 L1203.0 1264.2 L1200.1 1263.6 L1197.1 1263.0 L1194.2 1262.5 L1191.2 1261.9 L1188.3 1261.3 L1185.3 1260.8 L1182.4 1260.2 L1179.4 1259.6 L1176.4 1259.1 L1173.5 1258.6 L1170.5 1258.0 L1167.6 1257.5 L1164.6 1257.0 L1161.6 1256.5 L1158.7 1256.0 L1155.7 1255.4 L1152.8 1254.9 L1149.8 1254.5 L1146.8 1254.0 L1143.9 1253.5 L1140.9 1253.0 L1137.9 1252.5 L1135.0 1252.1 L1132.0 1251.6 L1129.0 1251.2 L1126.1 1250.7 L1123.1 1250.3 L1120.1 1249.9 L1117.2 1249.4 L1114.2 1249.0 L1111.2 1248.6 L1108.3 1248.2 L1105.3 1247.8 L1102.3 1247.4 L1099.4 1247.0 L1096.4 1246.6 L1093.4 1246.2 L1090.5 1245.8 L1087.5 1245.4 L1084.5 1245.1 L1081.5 1244.7 L1078.6 1244.3 L1075.6 1244.0 L1072.6 1243.6 L1069.6 1243.3 L1066.7 1243.0 L1063.7 1242.6 L1060.7 1242.3 L1057.7 1242.0 L1054.8 1241.7 L1051.8 1241.3 L1048.8 1241.0 L1045.8 1240.7 L1042.8 1240.4 L1039.9 1240.1 L1036.9 1239.9 L1033.9 1239.6 L1030.9 1239.3 L1027.9 1239.0 L1025.0 1238.8 L1022.0 1238.5 L1019.0 1238.2 L1016.0 1238.0 L1013.0 1237.7 L1010.1 1237.5 L1007.1 1237.3 L1004.1 1237.0 L1001.1 1236.8 L998.1 1236.6 L995.1 1236.3 L992.1 1236.1 L989.2 1235.9 L986.2 1235.7 L983.2 1235.5 L980.2 1235.3 L977.2 1235.1 L974.2 1234.9 L971.2 1234.7 L968.3 1234.6 L965.3 1234.4 L962.3 1234.2 L959.3 1234.0 L956.3 1233.9 L953.3 1233.7 L950.3 1233.6 L947.3 1233.4 L944.3 1233.3 L941.3 1233.1 L938.4 1233.0 L935.4 1232.9 L932.4 1232.7 L929.4 1232.6 L926.4 1232.5 L923.4 1232.4 L920.4 1232.3 L917.4 1232.2 L914.4 1232.0 L911.4 1231.9 L908.4 1231.8 L905.4 1231.8 L902.4 1231.7 L899.4 1231.6 L896.5 1231.5 L893.5 1231.4 L890.5 1231.3 L887.5 1231.3 L884.5 1231.2 L881.5 1231.1 L878.5 1231.1 L875.5 1231.0 L872.5 1231.0 L869.5 1230.9 L866.5 1230.9 L863.5 1230.8 L860.5 1230.8 L857.5 1230.8 L854.5 1230.7 L851.5 1230.7 L848.5 1230.7 L845.5 1230.7 L842.5 1230.7 L839.5 1230.6 L836.5 1230.6 L833.5 1230.6 L830.5 1230.6 L827.5 1230.6 L824.5 1230.6 L821.5 1230.6 L818.5 1230.6 L815.5 1230.6 L812.5 1230.7 L809.5 1230.7 L806.5 1230.7 L803.5 1230.7 L800.5 1230.8 L797.5 1230.8 L794.5 1230.8 L791.5 1230.9 L788.5 1230.9 L785.5 1230.9 L782.5 1231.0 L779.5 1231.0 L776.5 1231.1 L773.5 1231.1 L770.5 1231.2 L767.5 1231.2 L764.5 1231.3 L761.4 1231.4 L758.4 1231.4 L755.4 1231.5 L752.4 1231.6 L749.4 1231.7 L746.4 1231.7 L743.4 1231.8 L740.4 1231.9 L737.4 1232.0 L734.4 1232.1 L731.4 1232.2 L728.4 1232.3 L725.4 1232.4 L722.4 1232.5 L719.4 1232.6 L716.4 1232.7 L713.4 1232.8 L710.4 1232.9 L707.4 1233.0 L704.4 1233.1 L701.3 1233.2 L698.3 1233.3 L695.3 1233.4 L692.3 1233.6 L689.3 1233.7 L686.3 1233.8 L683.3 1233.9 L680.3 1234.1 L677.3 1234.2 L674.3 1234.3 L671.3 1234.5 L668.3 1234.6 L665.3 1234.7 L662.3 1234.9 L659.3 1235.0 L656.3 1235.2 L653.2 1235.3 L650.2 1235.5 L647.2 1235.6 L644.2 1235.8 L641.2 1235.9 L638.2 1236.1 L635.2 1236.2 L632.2 1236.4 L629.2 1236.6 L626.2 1236.7 L623.2 1236.9 L620.2 1237.0 L617.2 1237.2 L614.2 1237.4 L611.1 1237.5 L608.1 1237.7 L605.1 1237.9 L602.1 1238.1 L599.1 1238.2 L596.1 1238.4 L593.1 1238.6 L590.1 1238.8 L587.1 1239.0 L584.1 1239.1 L581.1 1239.3 L578.1 1239.5 L575.1 1239.7 L572.1 1239.9 L569.1 1240.1 L566.0 1240.3 L563.0 1240.5 L560.0 1240.6 L557.0 1240.8 L554.0 1241.0 L551.0 1241.2 L548.0 1241.4 L545.0 1241.6 L542.0 1241.8 L539.0 1242.0 L536.0 1242.2 L533.0 1242.4 L530.0 1242.6 L527.0 1242.8 L524.0 1243.0 L521.0 1243.2 L518.0 1243.4 L514.9 1243.6 L511.9 1243.9 L508.9 1244.1 L505.9 1244.3 L502.9 1244.5 L499.9 1244.7 L496.9 1244.9 L493.9 1245.1 L490.9 1245.3 L487.9 1245.5 L484.9 1245.7 L481.9 1245.9 L478.9 1246.2 L475.9 1246.4 L472.9 1246.6 L469.9 1246.8 L466.9 1247.0 L463.9 1247.2 L460.9 1247.4 L457.9 1247.7 L454.9 1247.9 L451.9 1248.1 L448.9 1248.3 L445.9 1248.5 L442.9 1248.7 L439.9 1249.0 L436.9 1249.2 L433.9 1249.4 L430.9 1249.6 L427.9 1249.8 L424.9 1250.0 L421.9 1250.3 L418.9 1250.5 L415.9 1250.7 L412.9 1250.9 L409.9 1251.1 L406.9 1251.3 L403.9 1251.6 L400.9 1251.8 L397.9 1252.0 L394.9 1252.2 L391.9 1252.4 L388.9 1252.6 L385.9 1252.8 L382.9 1253.1 L379.9 1253.3 L376.9 1253.5 L373.9 1253.7 L370.9 1253.9 L367.9 1254.1 L364.9 1254.3 L361.9 1254.5 L358.9 1254.8 L355.9 1255.0 L352.9 1255.2 L349.9 1255.4 L346.9 1255.6 L343.9 1255.8 L340.9 1256.0 L337.9 1256.2 L334.9 1256.4 L332.0 1256.6 L329.0 1256.8 L326.0 1257.0 L323.0 1257.2 L320.0 1257.4 L317.0 1257.6 L314.0 1257.8 L311.0 1258.0 L308.0 1258.2 L305.0 1258.4 L302.0 1258.6 L299.0 1258.8 L296.1 1259.0 L293.1 1259.2 L290.1 1259.4 L287.1 1259.6 L284.1 1259.8 L281.1 1260.0 L278.1 1260.2 L275.1 1260.3 L272.2 1260.5 L269.2 1260.7 L266.2 1260.9 L263.2 1261.1 L260.2 1261.3" fill="none" stroke="#1d8f8f" stroke-width="5.0" stroke-linejoin="round" stroke-linecap="round"/>
<path d="M260.1 1130.2 L260.8 1127.6 L261.4 1124.5 L261.9 1121.2 L262.6 1117.7 L263.3 1114.2 L264.4 1111.0 L265.7 1108.2 L267.4 1105.9 L269.3 1103.9 L271.5 1102.3 L273.9 1101.0 L276.5 1099.9 L279.2 1099.0 L282.0 1098.3 L284.9 1097.6 L287.7 1096.9 L290.6 1096.3 L293.5 1095.7 L296.4 1095.0 L299.3 1094.4 L302.2 1093.8 L305.1 1093.2 L308.0 1092.6 L310.9 1092.0 L313.8 1091.4 L316.8 1090.9 L319.7 1090.3 L322.6 1089.8 L325.5 1089.2 L328.5 1088.7 L331.4 1088.2 L334.4 1087.6 L337.3 1087.1 L340.3 1086.6 L343.2 1086.1 L346.2 1085.6 L349.1 1085.1 L352.1 1084.7 L355.0 1084.2 L358.0 1083.7 L361.0 1083.3 L363.9 1082.8 L366.9 1082.4 L369.9 1081.9 L372.9 1081.5 L375.9 1081.1 L378.8 1080.6 L381.8 1080.2 L384.8 1079.8 L387.8 1079.4 L390.8 1079.0 L393.8 1078.6 L396.7 1078.2 L399.7 1077.8 L402.7 1077.4 L405.7 1077.0 L408.7 1076.7 L411.7 1076.3 L414.7 1075.9 L417.7 1075.5 L420.7 1075.2 L423.7 1074.8 L426.7 1074.5 L429.7 1074.1 L432.7 1073.8 L435.7 1073.4 L438.7 1073.1 L441.7 1072.8 L444.6 1072.4 L447.6 1072.1 L450.6 1071.8 L453.6 1071.4 L456.6 1071.1 L459.6 1070.8 L462.6 1070.5 L465.6 1070.2 L468.6 1069.9 L471.6 1069.6 L474.7 1069.3 L477.7 1069.0 L480.7 1068.7 L483.7 1068.4 L486.7 1068.1 L489.7 1067.8 L492.7 1067.5 L495.7 1067.2 L498.7 1066.9 L501.7 1066.7 L504.7 1066.4 L507.7 1066.1 L510.7 1065.8 L513.7 1065.6 L516.7 1065.3 L519.7 1065.0 L522.7 1064.8 L525.7 1064.5 L528.7 1064.2 L531.7 1064.0 L534.7 1063.7 L537.7 1063.5 L540.8 1063.2 L543.8 1063.0 L546.8 1062.7 L549.8 1062.5 L552.8 1062.2 L555.8 1062.0 L558.8 1061.7 L561.8 1061.5 L564.8 1061.2 L567.8 1061.0 L570.8 1060.8 L573.8 1060.5 L576.8 1060.3 L579.9 1060.0 L582.9 1059.8 L585.9 1059.6 L588.9 1059.3 L591.9 1059.1 L594.9 1058.9 L597.9 1058.6 L600.9 1058.4 L603.9 1058.2 L606.9 1057.9 L609.9 1057.7 L612.9 1057.5 L615.9 1057.2 L619.0 1057.0 L622.0 1056.8 L625.0 1056.5 L628.0 1056.3 L631.0 1056.1 L634.0 1055.8 L637.0 1055.6 L640.0 1055.4 L643.0 1055.1 L646.0 1054.9 L649.0 1054.7 L652.0 1054.4 L655.0 1054.2 L658.0 1054.0 L661.0 1053.7 L664.0 1053.5 L667.0 1053.3 L670.0 1053.0 L673.1 1052.8 L676.1 1052.6 L679.1 1052.3 L682.1 1052.1 L685.1 1051.8 L688.1 1051.6 L691.1 1051.3 L694.1 1051.1 L697.1 1050.8 L700.1 1050.6 L703.1 1050.3 L706.1 1050.1 L709.1 1049.8 L712.1 1049.6 L715.1 1049.3 L718.1 1049.1 L721.1 1048.8 L724.1 1048.6 L727.1 1048.3 L730.1 1048.0 L733.1 1047.8 L736.0 1047.5 L739.0 1047.2 L742.0 1046.9 L745.0 1046.7 L748.0 1046.4 L751.0 1046.1 L754.0 1045.8 L757.0 1045.5 L760.0 1045.3 L763.0 1045.0 L766.0 1044.7 L769.0 1044.4 L772.0 1044.1 L774.9 1043.8 L777.9 1043.5 L780.9 1043.2 L783.9 1042.9 L786.9 1042.6 L789.9 1042.2 L792.9 1041.9 L795.8 1041.6 L798.8 1041.3 L801.8 1041.0 L804.8 1040.6 L807.8 1040.3 L810.8 1040.0 L813.7 1039.6 L816.7 1039.3 L819.7 1038.9 L822.7 1038.6 L825.7 1038.2 L828.6 1037.9 L831.6 1037.5 L834.6 1037.1 L837.6 1036.8 L840.5 1036.4 L843.5 1036.0 L846.5 1035.6 L849.4 1035.2 L852.4 1034.8 L855.4 1034.4 L858.4 1034.0 L861.3 1033.6 L864.3 1033.2 L867.2 1032.8 L870.2 1032.4 L873.2 1032.0 L876.1 1031.6 L879.1 1031.1 L882.1 1030.7 L885.0 1030.2 L888.0 1029.8 L890.9 1029.3 L893.9 1028.9 L896.9 1028.4 L899.8 1028.0 L902.8 1027.5 L905.7 1027.0 L908.7 1026.5 L911.6 1026.0 L914.6 1025.6 L917.5 1025.1 L920.5 1024.6 L923.4 1024.0 L926.4 1023.5 L929.3 1023.0 L932.2 1022.5 L935.2 1022.0 L938.1 1021.4 L941.1 1020.9 L944.0 1020.3 L947.0 1019.8 L949.9 1019.2 L952.8 1018.6 L955.8 1018.1 L958.7 1017.5 L961.6 1016.9 L964.6 1016.3 L967.5 1015.7 L970.4 1015.1 L973.3 1014.5 L976.3 1013.9 L979.2 1013.3 L982.1 1012.6 L985.0 1012.0 L988.0 1011.3 L990.9 1010.7 L993.8 1010.0 L996.7 1009.4 L999.6 1008.7 L1002.5 1008.0 L1005.5 1007.3 L1008.4 1006.6 L1011.3 1005.9 L1014.2 1005.2 L1017.1 1004.5 L1020.0 1003.8 L1022.9 1003.1 L1025.8 1002.3 L1028.7 1001.6 L1031.6 1000.8 L1034.5 1000.1 L1037.4 999.3 L1040.3 998.5 L1043.2 997.7 L1046.1 997.0 L1049.0 996.2 L1051.9 995.3 L1054.8 994.5 L1057.7 993.7 L1060.6 992.9 L1063.4 992.0 L1066.3 991.2 L1069.2 990.3 L1072.1 989.5 L1075.0 988.6 L1077.8 987.7 L1080.7 986.8 L1083.6 985.9 L1086.5 985.0 L1089.3 984.1 L1092.2 983.2 L1095.1 982.2 L1097.9 981.3 L1100.8 980.3 L1103.7 979.4 L1106.5 978.4 L1109.4 977.4 L1112.2 976.4 L1115.1 975.5 L1117.9 974.4 L1120.8 973.4 L1123.7 972.4 L1126.5 971.4 L1129.3 970.3 L1132.2 969.3 L1135.0 968.2 L1137.9 967.1 L1140.7 966.1 L1143.6 965.0 L1146.4 963.9 L1149.2 962.7 L1152.1 961.6 L1154.9 960.5 L1157.7 959.3 L1160.5 958.2 L1163.3 957.0 L1166.1 955.8 L1168.9 954.6 L1171.7 953.4 L1174.5 952.2 L1177.3 951.0 L1180.1 949.7 L1182.8 948.5 L1185.6 947.2 L1188.3 945.9 L1191.1 944.6 L1193.8 943.3 L1196.5 942.0 L1199.3 940.6 L1202.0 939.3 L1204.6 937.9 L1207.3 936.5 L1210.0 935.1 L1212.7 933.7 L1215.3 932.2 L1217.9 930.8 L1220.5 929.3 L1223.2 927.8 L1225.7 926.3 L1228.3 924.8 L1230.9 923.2 L1233.4 921.7 L1236.0 920.1 L1238.5 918.5 L1241.0 916.9 L1243.5 915.2 L1245.9 913.6 L1248.4 911.9 L1250.8 910.2 L1253.2 908.5 L1255.6 906.7 L1258.0 905.0 L1260.4 903.2 L1262.7 901.4 L1265.0 899.6 L1267.3 897.8 L1269.6 895.9 L1271.9 894.0 L1274.1 892.1 L1276.3 890.2 L1278.5 888.2 L1280.7 886.2 L1282.8 884.2 L1284.9 882.2 L1287.0 880.2 L1289.1 878.1 L1291.2 876.0 L1293.2 873.9 L1295.2 871.7 L1297.2 869.6 L1299.1 867.4 L1301.0 865.1 L1302.9 862.9 L1304.8 860.6 L1306.6 858.3 L1308.4 856.0 L1310.2 853.6 L1312.0 851.3 L1313.7 848.9 L1315.4 846.4 L1317.1 844.0 L1318.7 841.5 L1320.4 839.0 L1321.9 836.5 L1323.5 833.9 L1325.1 831.4 L1326.6 828.8 L1328.1 826.2 L1329.6 823.5 L1331.0 820.9 L1332.5 818.2 L1333.9 815.6 L1335.3 812.9 L1336.6 810.1 L1338.0 807.4 L1339.3 804.7 L1340.6 801.9 L1341.9 799.2 L1343.2 796.4 L1344.5 793.6 L1345.7 790.8 L1347.0 788.0 L1348.2 785.2 L1349.4 782.3 L1350.6 779.5 L1351.8 776.7 L1352.9 773.8 L1354.1 771.0 L1355.2 768.1 L1356.4 765.3 L1357.5 762.4 L1358.6 759.5 L1359.7 756.7 L1360.8 753.8 L1361.9 750.9 L1363.0 748.0 L1364.0 745.2 L1365.1 742.3 L1366.1 739.4 L1367.2 736.6 L1368.2 733.7 L1369.3 730.8 L1370.3 728.0 L1371.3 725.1 L1372.3 722.3 L1373.3 719.4 L1374.3 716.5 L1375.3 713.7 L1376.3 710.8 L1377.3 708.0 L1378.3 705.1 L1379.3 702.3 L1380.2 699.4 L1381.2 696.5 L1382.1 693.7 L1383.1 690.8 L1384.0 688.0 L1384.9 685.1 L1385.8 682.3 L1386.7 679.4 L1387.7 676.6 L1388.6 673.7 L1389.4 670.8 L1390.3 668.0 L1391.2 665.1 L1392.1 662.3 L1392.9 659.4 L1393.8 656.5 L1394.6 653.7 L1395.5 650.8 L1396.3 648.0 L1397.1 645.1 L1398.0 642.2 L1398.8 639.3 L1399.6 636.5 L1400.4 633.6 L1401.1 630.7 L1401.9 627.9 L1402.7 625.0 L1403.5 622.1 L1404.2 619.2 L1405.0 616.3 L1405.7 613.5 L1406.5 610.6 L1407.2 607.7 L1408.0 604.8 L1408.7 601.9 L1409.4 599.0 L1410.2 596.1 L1410.9 593.3 L1411.7 590.4 L1412.4 587.5 L1413.1 584.6 L1413.9 581.7 L1414.6 578.8 L1415.4 575.9 L1416.2 573.1 L1416.9 570.2 L1417.7 567.3 L1418.5 564.4 L1419.3 561.5 L1420.1 558.7 L1420.9 555.8 L1421.7 552.9 L1422.5 550.0 L1423.4 547.2 L1424.2 544.3 L1425.1 541.5 L1426.0 538.6 L1426.9 535.8 L1427.8 532.9 L1428.7 530.1 L1429.7 527.2 L1430.6 524.4 L1431.6 521.5 L1432.6 518.7 L1433.6 515.9 L1434.7 513.1 L1435.7 510.2 L1436.8 507.4 L1437.9 504.6 L1439.1 501.8 L1440.2 499.0 L1441.4 496.2 L1442.6 493.5 L1443.8 490.7 L1445.1 487.9 L1446.4 485.1 L1447.7 482.4 L1449.0 479.6 L1450.4 476.9 L1451.8 474.2 L1453.2 471.4 L1454.7 468.7 L1456.3 466.1 L1457.8 463.5 L1459.5 460.9 L1461.1 458.4 L1462.9 455.9 L1464.7 453.6 L1466.6 451.3 L1468.6 449.1 L1470.6 447.1 L1472.8 445.1 L1475.0 443.2 L1477.3 441.5 L1479.8 440.0 L1482.3 438.5 L1484.9 437.2 L1487.7 436.1 L1490.5 435.2 L1493.4 434.3 L1496.4 433.6 L1499.5 433.1 L1502.5 432.7 L1505.6 432.4 L1508.7 432.2 L1511.8 432.1 L1514.8 432.1 L1517.8 432.2 L1520.8 432.2 L1523.8 432.1 L1526.7 431.7 L1529.5 431.1 L1532.2 430.2 L1535.0 429.0 L1537.6 427.6 L1540.3 426.2 L1543.0 424.7 L1545.7 423.3 L1548.4 421.9 L1551.1 420.6 L1553.8 419.3 L1556.5 417.9 L1559.2 416.5 L1561.9 415.1 L1564.5 413.7 L1567.1 412.2 L1569.6 410.6 L1572.2 409.1 L1574.7 407.5 L1577.3 405.9 L1579.8 404.3 L1582.3 402.6 L1584.8 401.0 L1587.3 399.3 L1589.8 397.7 L1592.3 396.0 L1594.8 394.4 L1597.3 392.7 L1599.8 391.1 L1602.3 389.5 L1604.8 387.9 L1607.3 386.2 L1609.8 384.6 L1612.4 383.0 L1614.9 381.4 L1617.4 379.8 L1620.0 378.2 L1622.5 376.6 L1625.1 375.0 L1627.6 373.4 L1630.1 371.8 L1632.7 370.2 L1635.2 368.6 L1637.8 367.0 L1640.3 365.4 L1642.9 363.9 L1645.4 362.3 L1648.0 360.7 L1650.5 359.1 L1653.1 357.5 L1655.6 355.9 L1658.2 354.3 L1660.7 352.7 L1663.3 351.1 L1665.8 349.5 L1668.4 347.9 L1670.9 346.2 L1673.4 344.6 L1676.0 343.0 L1678.5 341.4 L1681.0 339.7 L1683.6 338.1 L1686.1 336.5 L1688.6 334.8 L1691.1 333.2 L1693.6 331.5 L1696.1 329.8 L1698.6 328.2 L1701.2 326.5 L1703.7 324.8 L1706.2 323.1 L1708.6 321.4 L1711.1 319.7 L1713.6 318.0 L1716.1 316.3 L1718.6 314.6 L1721.1 312.9 L1723.5 311.2 L1726.0 309.5 L1728.4 307.7 L1730.9 306.0 L1733.4 304.2 L1735.8 302.5 L1738.2 300.7 L1740.7 299.0 L1743.1 297.2 L1745.5 295.4 L1748.0 293.6 L1750.4 291.8 L1752.8 290.0 L1755.2 288.2 L1757.6 286.4 L1760.0 284.6 L1762.4 282.8 L1764.8 281.0 L1767.1 279.1 L1769.5 277.3 L1771.9 275.4 L1774.2 273.6 L1776.6 271.7 L1779.0 269.8 L1781.3 268.0 L1783.6 266.1 L1786.0 264.2 L1788.3 262.3 L1790.6 260.4 L1792.9 258.5 L1795.2 256.6 L1797.5 254.6 L1799.8 252.7 L1802.1 250.8 L1804.3 248.8 L1806.6 246.9 L1808.9 244.9 L1811.1 242.9 L1813.4 240.9 L1815.6 238.9 L1817.8 237.0 L1820.1 235.0 L1822.3 232.9 L1824.5 230.9 L1826.7 228.9 L1828.9 226.9 L1831.0 224.8 L1833.2 222.8 L1835.4 220.7 L1837.5 218.6 L1839.7 216.6 L1841.8 214.5 L1844.0 212.4 L1846.1 210.3 L1848.2 208.2 L1850.3 206.1 L1852.4 203.9 L1854.5 201.8 L1856.5 199.7 L1858.6 197.5 L1860.7 195.4 L1862.7 193.2 L1864.8 191.0 L1866.8 188.8 L1868.8 186.6 L1870.8 184.4 L1872.8 182.2 L1874.8 180.0 L1876.8 177.7 L1878.8 175.5 L1880.7 173.2 L1882.7 171.0 L1884.6 168.7 L1886.5 166.4 L1888.4 164.1 L1890.3 161.8 L1892.2 159.5 L1894.1 157.2 L1896.0 154.9 L1897.9 152.6 L1899.7 150.2 L1901.6 147.9 L1903.4 145.5 L1905.2 143.1 L1907.0 140.7 L1908.8 138.3 L1910.6 135.9 L1912.4 133.5 L1914.1 131.1 L1915.9 128.6 L1917.6 126.2 L1919.3 123.7 L1921.0 121.3 L1922.7 118.8 L1924.4 116.3 L1926.1 113.8 L1927.8 111.3 L1929.4 108.7 L1931.0 106.2 L1932.7 103.7 L1934.3 101.1 L1935.9 98.6 L1937.5 96.0 L1939.0 93.4 L1940.6 90.8 L1942.1 88.2 L1943.7 85.6 L1945.2 82.9 L1946.7 80.3 L1948.2 77.6 L1949.7 75.0 L1951.1 72.3 L1952.6 69.6 L1954.0 66.9 L1955.4 64.2 L1956.8 61.5 L1958.2 58.7" fill="none" stroke="#8e1a1e" stroke-width="5.0" stroke-linejoin="round" stroke-linecap="round"/>
<path d="M1958.5 59.0 L1958.1 62.0 L1957.8 65.0 L1957.4 68.0 L1957.1 70.9 L1956.7 73.9 L1956.4 76.9 L1956.0 79.9 L1955.7 82.9 L1955.3 85.9 L1955.0 88.9 L1954.6 91.9 L1954.3 94.9 L1953.9 97.9 L1953.6 100.9 L1953.2 103.8 L1952.9 106.8 L1952.5 109.8 L1952.2 112.8 L1951.8 115.8 L1951.5 118.8 L1951.1 121.8 L1950.8 124.8 L1950.4 127.7 L1950.1 130.7 L1949.7 133.7 L1949.4 136.7 L1949.0 139.7 L1948.6 142.7 L1948.3 145.7 L1947.9 148.6 L1947.6 151.6 L1947.2 154.6 L1946.9 157.6 L1946.5 160.6 L1946.2 163.6 L1945.8 166.5 L1945.5 169.5 L1945.1 172.5 L1944.7 175.5 L1944.4 178.5 L1944.0 181.5 L1943.7 184.4 L1943.3 187.4 L1943.0 190.4 L1942.6 193.4 L1942.2 196.4 L1941.9 199.3 L1941.5 202.3 L1941.2 205.3 L1940.8 208.3 L1940.4 211.3 L1940.1 214.2 L1939.7 217.2 L1939.4 220.2 L1939.0 223.2 L1938.6 226.2 L1938.3 229.1 L1937.9 232.1 L1937.5 235.1 L1937.2 238.1 L1936.8 241.0 L1936.5 244.0 L1936.1 247.0 L1935.7 250.0 L1935.4 253.0 L1935.0 255.9 L1934.6 258.9 L1934.3 261.9 L1933.9 264.9 L1933.5 267.8 L1933.2 270.8 L1932.8 273.8 L1932.4 276.8 L1932.1 279.7 L1931.7 282.7 L1931.3 285.7 L1930.9 288.7 L1930.6 291.6 L1930.2 294.6 L1929.8 297.6 L1929.5 300.6 L1929.1 303.5 L1928.7 306.5 L1928.4 309.5 L1928.0 312.5 L1927.6 315.4 L1927.2 318.4 L1926.9 321.4 L1926.5 324.4 L1926.1 327.3 L1925.7 330.3 L1925.4 333.3 L1925.0 336.3 L1924.6 339.2 L1924.2 342.2 L1923.9 345.2 L1923.5 348.1 L1923.1 351.1 L1922.7 354.1 L1922.3 357.1 L1922.0 360.0 L1921.6 363.0 L1921.2 366.0 L1920.8 369.0 L1920.4 371.9 L1920.1 374.9 L1919.7 377.9 L1919.3 380.9 L1918.9 383.8 L1918.5 386.8 L1918.1 389.8 L1917.8 392.7 L1917.4 395.7 L1917.0 398.7 L1916.6 401.7 L1916.2 404.6 L1915.8 407.6 L1915.4 410.6 L1915.1 413.6 L1914.7 416.5 L1914.3 419.5 L1913.9 422.5 L1913.5 425.4 L1913.1 428.4 L1912.7 431.4 L1912.3 434.4 L1911.9 437.3 L1911.6 440.3 L1911.2 443.3 L1910.8 446.3 L1910.4 449.2 L1910.0 452.2 L1909.6 455.2 L1909.2 458.2 L1908.8 461.1 L1908.4 464.1 L1908.0 467.1 L1907.6 470.1 L1907.2 473.0 L1906.8 476.0 L1906.4 479.0 L1906.0 482.0 L1905.6 484.9 L1905.2 487.9 L1904.8 490.9 L1904.4 493.9 L1904.0 496.8 L1903.6 499.8 L1903.2 502.8 L1902.8 505.8 L1902.4 508.7 L1902.0 511.7 L1901.6 514.7 L1901.2 517.7 L1900.8 520.6 L1900.4 523.6 L1900.0 526.6 L1899.6 529.6 L1899.2 532.5 L1898.7 535.5 L1898.3 538.5 L1897.9 541.5 L1897.5 544.5 L1897.1 547.4 L1896.7 550.4 L1896.3 553.4 L1895.9 556.4 L1895.5 559.3 L1895.0 562.3 L1894.6 565.3 L1894.2 568.3 L1893.8 571.3 L1893.4 574.2 L1893.0 577.2 L1892.5 580.2 L1892.1 583.2 L1891.7 586.2 L1891.3 589.1 L1890.9 592.1 L1890.5 595.1 L1890.0 598.1 L1889.6 601.1 L1889.2 604.1 L1888.8 607.0 L1888.3 610.0 L1887.9 613.0 L1887.5 616.0 L1887.1 619.0 L1886.6 622.0 L1886.2 624.9 L1885.8 627.9 L1885.4 630.9 L1884.9 633.9 L1884.5 636.9 L1884.1 639.9 L1883.6 642.8 L1883.2 645.8 L1882.8 648.8 L1882.3 651.8 L1881.9 654.8 L1881.5 657.8 L1881.0 660.8 L1880.6 663.7 L1880.1 666.7 L1879.7 669.7 L1879.3 672.7 L1878.8 675.7 L1878.4 678.7 L1877.9 681.7 L1877.5 684.6 L1877.0 687.6 L1876.6 690.6 L1876.1 693.6 L1875.6 696.6 L1875.2 699.6 L1874.7 702.5 L1874.2 705.5 L1873.8 708.5 L1873.3 711.5 L1872.8 714.5 L1872.4 717.5 L1871.9 720.4 L1871.4 723.4 L1870.9 726.4 L1870.4 729.4 L1869.9 732.3 L1869.5 735.3 L1869.0 738.3 L1868.5 741.3 L1868.0 744.2 L1867.5 747.2 L1867.0 750.2 L1866.4 753.2 L1865.9 756.1 L1865.4 759.1 L1864.9 762.1 L1864.4 765.0 L1863.8 768.0 L1863.3 771.0 L1862.8 773.9 L1862.2 776.9 L1861.7 779.9 L1861.2 782.8 L1860.6 785.8 L1860.0 788.8 L1859.5 791.7 L1858.9 794.7 L1858.4 797.6 L1857.8 800.6 L1857.2 803.5 L1856.6 806.5 L1856.1 809.4 L1855.5 812.4 L1854.9 815.3 L1854.3 818.3 L1853.7 821.2 L1853.1 824.2 L1852.5 827.1 L1851.8 830.0 L1851.2 833.0 L1850.6 835.9 L1850.0 838.9 L1849.3 841.8 L1848.7 844.7 L1848.0 847.7 L1847.4 850.6 L1846.7 853.5 L1846.1 856.4 L1845.4 859.4 L1844.7 862.3 L1844.0 865.2 L1843.4 868.1 L1842.7 871.0 L1842.0 873.9 L1841.3 876.9 L1840.6 879.8 L1839.8 882.7 L1839.1 885.6 L1838.4 888.5 L1837.7 891.4 L1836.9 894.3 L1836.2 897.2 L1835.4 900.1 L1834.7 903.0 L1833.9 905.9 L1833.1 908.7 L1832.3 911.6 L1831.6 914.5 L1830.8 917.4 L1830.0 920.3 L1829.2 923.2 L1828.4 926.0 L1827.5 928.9 L1826.7 931.8 L1825.9 934.6 L1825.0 937.5 L1824.2 940.4 L1823.3 943.2 L1822.5 946.1 L1821.6 948.9 L1820.7 951.8 L1819.8 954.6 L1818.9 957.5 L1818.0 960.3 L1817.1 963.1 L1816.2 966.0 L1815.3 968.8 L1814.4 971.6 L1813.4 974.5 L1812.5 977.3 L1811.5 980.1 L1810.5 982.9 L1809.6 985.8 L1808.6 988.6 L1807.6 991.4 L1806.6 994.2 L1805.6 997.0 L1804.6 999.8 L1803.6 1002.6 L1802.5 1005.4 L1801.5 1008.2 L1800.4 1011.0 L1799.4 1013.7 L1798.3 1016.5 L1797.2 1019.3 L1796.1 1022.1 L1795.1 1024.8 L1793.9 1027.6 L1792.8 1030.4 L1791.7 1033.1 L1790.6 1035.9 L1789.4 1038.6 L1788.3 1041.4 L1787.1 1044.1 L1786.0 1046.9 L1784.8 1049.6 L1783.6 1052.4 L1782.4 1055.1 L1781.2 1057.8 L1780.0 1060.5 L1778.7 1063.3 L1777.5 1066.0 L1776.2 1068.7 L1775.0 1071.4 L1773.7 1074.1 L1772.4 1076.8 L1771.1 1079.5 L1769.8 1082.2 L1768.5 1084.9 L1767.2 1087.6 L1765.9 1090.2 L1764.5 1092.9 L1763.2 1095.6 L1761.8 1098.3 L1760.4 1100.9 L1759.0 1103.6 L1757.6 1106.2 L1756.2 1108.9 L1754.8 1111.5 L1753.4 1114.2 L1751.9 1116.8 L1750.5 1119.5 L1749.0 1122.1 L1747.5 1124.7 L1746.0 1127.3 L1744.5 1129.9 L1743.0 1132.6 L1741.5 1135.2 L1740.0 1137.8 L1738.4 1140.4 L1736.9 1143.0 L1735.3 1145.5 L1733.7 1148.1 L1732.1 1150.7 L1730.5 1153.3 L1728.9 1155.8 L1727.3 1158.4 L1725.6 1161.0 L1724.0 1163.5 L1722.3 1166.1 L1720.7 1168.6 L1719.0 1171.1 L1717.3 1173.6 L1715.6 1176.2 L1713.9 1178.7 L1712.1 1181.2 L1710.4 1183.7 L1708.7 1186.2 L1706.9 1188.6 L1705.1 1191.1 L1703.3 1193.6 L1701.5 1196.1 L1699.7 1198.5 L1697.9 1201.0 L1696.1 1203.4 L1694.3 1205.8 L1692.4 1208.2 L1690.6 1210.7 L1688.7 1213.1 L1686.8 1215.5 L1684.9 1217.8 L1683.0 1220.2 L1681.1 1222.6 L1679.2 1225.0 L1677.3 1227.3 L1675.3 1229.7 L1673.4 1232.0 L1671.4 1234.3 L1669.4 1236.6 L1667.4 1238.9 L1665.5 1241.2 L1663.4 1243.5 L1661.4 1245.8 L1659.4 1248.1 L1657.4 1250.3 L1655.3 1252.6 L1653.3 1254.8 L1651.2 1257.0 L1649.1 1259.3 L1647.0 1261.5 L1644.9 1263.7 L1642.8 1265.8 L1640.7 1268.0 L1638.6 1270.2 L1636.5 1272.3 L1634.3 1274.5 L1632.2 1276.6 L1630.0 1278.7 L1627.8 1280.8 L1625.6 1282.9 L1623.4 1285.0 L1621.2 1287.0 L1619.0 1289.1 L1616.8 1291.1 L1614.6 1293.2 L1612.3 1295.2 L1610.1 1297.2 L1607.8 1299.2 L1605.5 1301.2 L1603.3 1303.1 L1601.0 1305.1 L1598.7 1307.0 L1596.4 1309.0 L1594.1 1310.9 L1591.7 1312.8 L1589.4 1314.7 L1587.0 1316.5 L1584.7 1318.4 L1582.3 1320.2 L1580.0 1322.1 L1577.6 1323.9 L1575.2 1325.7 L1572.8 1327.5 L1570.4 1329.2 L1567.9 1331.0 L1565.5 1332.7 L1563.1 1334.4 L1560.6 1336.2 L1558.2 1337.9 L1555.7 1339.5 L1553.2 1341.2 L1550.8 1342.8 L1548.3 1344.5 L1545.8 1346.1 L1543.3 1347.7 L1540.8 1349.3 L1538.2 1350.9 L1535.7 1352.4 L1533.2 1353.9 L1530.6 1355.5 L1528.0 1357.0 L1525.5 1358.5 L1522.9 1359.9 L1520.3 1361.4 L1517.7 1362.8 L1515.1 1364.2 L1512.5 1365.6 L1509.9 1367.0 L1507.3 1368.4 L1504.6 1369.7 L1502.0 1371.1 L1499.3 1372.4 L1496.7 1373.7 L1494.0 1374.9 L1491.3 1376.2 L1488.7 1377.4 L1486.0 1378.6 L1483.3 1379.9 L1480.6 1381.0 L1477.8 1382.2 L1475.1 1383.3 L1472.4 1384.5 L1469.7 1385.6 L1466.9 1386.7 L1464.1 1387.7 L1461.4 1388.8 L1458.6 1389.8 L1455.8 1390.8 L1453.1 1391.8 L1450.3 1392.8 L1447.5 1393.7 L1444.6 1394.6 L1441.8 1395.5 L1439.0 1396.4 L1436.2 1397.3 L1433.3 1398.1 L1430.5 1399.0 L1427.6 1399.8 L1424.8 1400.6 L1421.9 1401.3 L1419.0 1402.1 L1416.2 1402.8 L1413.3 1403.5 L1410.4 1404.1 L1407.5 1404.8 L1404.6 1405.4 L1401.7 1406.0 L1398.7 1406.6 L1395.8 1407.2 L1392.9 1407.7 L1390.0 1408.2 L1387.0 1408.7 L1384.1 1409.2 L1381.1 1409.6 L1378.2 1410.0 L1375.3 1410.4 L1372.3 1410.8 L1369.3 1411.1 L1366.4 1411.4 L1363.4 1411.7 L1360.5 1412.0 L1357.5 1412.2 L1354.5 1412.4 L1351.6 1412.6 L1348.6 1412.8 L1345.6 1412.9 L1342.6 1413.0 L1339.7 1413.1 L1336.7 1413.2 L1333.7 1413.2 L1330.8 1413.2 L1327.8 1413.2 L1324.8 1413.1 L1321.8 1413.1 L1318.9 1413.0 L1315.9 1412.8 L1312.9 1412.7 L1309.9 1412.5 L1307.0 1412.3 L1304.0 1412.1 L1301.0 1411.8 L1298.1 1411.6 L1295.1 1411.3 L1292.1 1411.0 L1289.2 1410.6 L1286.2 1410.3 L1283.2 1409.9 L1280.3 1409.5 L1277.3 1409.1 L1274.3 1408.6 L1271.4 1408.2 L1268.4 1407.7 L1265.5 1407.2 L1262.5 1406.7 L1259.6 1406.1 L1256.6 1405.6 L1253.7 1405.0 L1250.8 1404.4 L1247.8 1403.8 L1244.9 1403.1 L1242.0 1402.5 L1239.0 1401.8 L1236.1 1401.1 L1233.2 1400.4 L1230.3 1399.7 L1227.4 1399.0 L1224.4 1398.2 L1221.5 1397.5 L1218.6 1396.7 L1215.7 1395.9 L1212.8 1395.1 L1209.9 1394.3 L1207.0 1393.5 L1204.1 1392.7 L1201.2 1391.8 L1198.3 1391.0 L1195.4 1390.1 L1192.5 1389.2 L1189.6 1388.4 L1186.7 1387.5 L1183.8 1386.6 L1180.9 1385.7 L1178.1 1384.8 L1175.2 1383.8 L1172.3 1382.9 L1169.4 1382.0 L1166.5 1381.0 L1163.6 1380.1 L1160.8 1379.1 L1157.9 1378.2 L1155.0 1377.2 L1152.1 1376.3 L1149.2 1375.3 L1146.4 1374.4 L1143.5 1373.4 L1140.6 1372.4 L1137.7 1371.5 L1134.9 1370.5 L1132.0 1369.5 L1129.1 1368.5 L1126.2 1367.6 L1123.4 1366.6 L1120.5 1365.6 L1117.6 1364.7 L1114.7 1363.7 L1111.8 1362.8 L1109.0 1361.8 L1106.1 1360.9 L1103.2 1359.9 L1100.3 1359.0 L1097.5 1358.0 L1094.6 1357.1 L1091.7 1356.2 L1088.8 1355.3 L1085.9 1354.4 L1083.0 1353.5 L1080.2 1352.6 L1077.3 1351.7 L1074.4 1350.8 L1071.5 1349.9 L1068.6 1349.1 L1065.7 1348.2 L1062.8 1347.4 L1059.9 1346.6 L1057.0 1345.8 L1054.1 1345.0 L1051.2 1344.2 L1048.3 1343.4 L1045.4 1342.6 L1042.5 1341.9 L1039.6 1341.1 L1036.7 1340.4 L1033.8 1339.7 L1030.9 1338.9 L1028.0 1338.2 L1025.1 1337.6 L1022.2 1336.9 L1019.2 1336.2 L1016.3 1335.6 L1013.4 1334.9 L1010.5 1334.3 L1007.6 1333.7 L1004.6 1333.0 L1001.7 1332.4 L998.8 1331.9 L995.9 1331.3 L992.9 1330.7 L990.0 1330.1 L987.1 1329.6 L984.1 1329.1 L981.2 1328.5 L978.3 1328.0 L975.3 1327.5 L972.4 1327.0 L969.4 1326.5 L966.5 1326.0 L963.6 1325.6 L960.6 1325.1 L957.7 1324.7 L954.7 1324.2 L951.8 1323.8 L948.8 1323.4 L945.9 1323.0 L942.9 1322.6 L940.0 1322.2 L937.0 1321.8 L934.1 1321.4 L931.1 1321.0 L928.2 1320.7 L925.2 1320.3 L922.2 1320.0 L919.3 1319.7 L916.3 1319.4 L913.3 1319.1 L910.4 1318.8 L907.4 1318.5 L904.5 1318.2 L901.5 1317.9 L898.5 1317.6 L895.5 1317.4 L892.6 1317.1 L889.6 1316.9 L886.6 1316.7 L883.7 1316.4 L880.7 1316.2 L877.7 1316.0 L874.7 1315.8 L871.8 1315.6 L868.8 1315.4 L865.8 1315.3 L862.8 1315.1 L859.8 1314.9 L856.9 1314.8 L853.9 1314.6 L850.9 1314.5 L847.9 1314.4 L844.9 1314.3 L841.9 1314.2 L838.9 1314.0 L836.0 1313.9 L833.0 1313.9 L830.0 1313.8 L827.0 1313.7 L824.0 1313.6 L821.0 1313.6 L818.0 1313.5 L815.0 1313.5 L812.0 1313.4 L809.0 1313.4 L806.0 1313.3 L803.0 1313.3 L800.0 1313.3 L797.0 1313.3 L794.0 1313.3 L791.0 1313.3 L788.0 1313.3 L785.0 1313.3 L782.0 1313.4 L779.0 1313.4 L776.0 1313.4 L773.0 1313.5 L770.0 1313.5 L767.0 1313.6 L764.0 1313.6 L761.0 1313.7 L758.0 1313.8 L755.0 1313.8 L752.0 1313.9 L749.0 1314.0 L746.0 1314.1 L743.0 1314.2 L740.0 1314.3 L737.0 1314.4 L733.9 1314.5 L730.9 1314.7 L727.9 1314.8 L724.9 1314.9 L721.9 1315.1 L718.9 1315.2 L715.9 1315.4 L712.9 1315.5 L709.9 1315.7 L706.8 1315.8 L703.8 1316.0 L700.8 1316.2 L697.8 1316.3 L694.8 1316.5 L691.8 1316.7 L688.8 1316.9 L685.7 1317.1 L682.7 1317.3 L679.7 1317.5 L676.7 1317.7 L673.7 1317.9 L670.7 1318.1 L667.6 1318.3 L664.6 1318.6 L661.6 1318.8 L658.6 1319.0 L655.6 1319.3 L652.6 1319.5 L649.5 1319.7 L646.5 1320.0 L643.5 1320.2 L640.5 1320.5 L637.5 1320.7 L634.5 1321.0 L631.4 1321.3 L628.4 1321.5 L625.4 1321.8 L622.4 1322.1 L619.4 1322.3 L616.3 1322.6 L613.3 1322.9 L610.3 1323.2 L607.3 1323.5 L604.3 1323.8 L601.3 1324.1 L598.2 1324.4 L595.2 1324.7 L592.2 1325.0 L589.2 1325.3 L586.2 1325.6 L583.1 1325.9 L580.1 1326.2 L577.1 1326.5 L574.1 1326.8 L571.1 1327.1 L568.1 1327.5 L565.0 1327.8 L562.0 1328.1 L559.0 1328.4 L556.0 1328.8 L553.0 1329.1 L550.0 1329.4 L546.9 1329.8 L543.9 1330.1 L540.9 1330.4 L537.9 1330.8 L534.9 1331.1 L531.9 1331.4 L528.9 1331.8 L525.8 1332.1 L522.8 1332.5 L519.8 1332.8 L516.8 1333.2 L513.8 1333.5 L510.8 1333.9 L507.8 1334.2 L504.8 1334.6 L501.7 1334.9 L498.7 1335.3 L495.7 1335.6 L492.7 1336.0 L489.7 1336.3 L486.7 1336.7 L483.7 1337.0 L480.7 1337.4 L477.7 1337.7 L474.7 1338.1 L471.7 1338.5 L468.7 1338.8 L465.7 1339.2 L462.6 1339.5 L459.6 1339.9 L456.6 1340.2 L453.6 1340.6 L450.6 1341.0 L447.6 1341.3 L444.6 1341.7 L441.6 1342.0 L438.6 1342.4 L435.6 1342.7 L432.6 1343.1 L429.6 1343.4 L426.6 1343.8 L423.6 1344.1 L420.7 1344.5 L417.7 1344.8 L414.7 1345.2 L411.7 1345.5 L408.7 1345.9 L405.7 1346.2 L402.7 1346.6 L399.7 1346.9 L396.7 1347.3 L393.7 1347.6 L390.7 1348.0 L387.7 1348.3 L384.8 1348.6 L381.8 1349.0 L378.8 1349.3 L375.8 1349.6 L372.8 1350.0 L369.8 1350.3 L366.9 1350.6 L363.9 1350.9 L360.9 1351.3 L357.9 1351.6 L354.9 1351.9 L352.0 1352.2 L349.0 1352.5 L346.0 1352.9 L343.0 1353.2 L340.1 1353.5 L337.1 1353.8 L334.1 1354.1 L331.2 1354.4 L328.2 1354.7 L325.2 1355.0 L322.3 1355.3 L319.3 1355.6 L316.3 1355.8 L313.4 1356.1 L310.4 1356.4 L307.4 1356.7 L304.5 1357.0 L301.5 1357.2 L298.6 1357.5 L295.6 1357.8 L292.7 1358.0 L289.7 1358.3 L286.7 1358.5 L283.8 1358.8 L280.8 1359.0 L277.9 1359.3 L274.9 1359.5 L272.0 1359.8 L269.1 1360.0 L266.1 1360.2 L263.2 1360.5 L260.2 1360.7" fill="none" stroke="#8e1a1e" stroke-width="5.0" stroke-linejoin="round" stroke-linecap="round"/>
<line x1="1377.5" y1="369.6" x2="1510.5" y2="424.2" stroke="#8f8f8f" stroke-width="2.8"/>
<line x1="1329.0" y1="546.0" x2="1493.0" y2="679.0" stroke="#8f8f8f" stroke-width="2.8"/>
<line x1="1256.5" y1="723.0" x2="1452.5" y2="882.5" stroke="#8f8f8f" stroke-width="2.8"/>
<circle cx="1462.0" cy="887.2" r="10.3" fill="#000"/>
<circle cx="1506.8" cy="688.2" r="10.3" fill="#000"/>
<circle cx="1529.9" cy="434.5" r="10.3" fill="#000"/>
<line x1="1463.0" y1="896.0" x2="1463.0" y2="1449.8" stroke="#c4c4ff" stroke-width="6.5"/>
<line x1="1463.0" y1="887.0" x2="1463.0" y2="1449.8" stroke="#2a2aff" stroke-width="3.6" stroke-dasharray="4.5 5.5"/>
<line x1="1507.7" y1="697.0" x2="1507.7" y2="1449.8" stroke="#c4c4ff" stroke-width="6.5"/>
<line x1="1507.7" y1="688.0" x2="1507.7" y2="1449.8" stroke="#2a2aff" stroke-width="3.6" stroke-dasharray="4.5 5.5"/>
<line x1="1530.1" y1="443.0" x2="1530.1" y2="1449.8" stroke="#c4c4ff" stroke-width="6.5"/>
<line x1="1530.1" y1="434.0" x2="1530.1" y2="1449.8" stroke="#2a2aff" stroke-width="3.6" stroke-dasharray="4.5 5.5"/>
<rect x="259.6" y="36.5" width="1736.9" height="1413.3" fill="none" stroke="#1c1c1c" stroke-width="5.6"/>
<line x1="245.5" y1="1430.3" x2="259.6" y2="1430.3" stroke="#1c1c1c" stroke-width="5.6"/>
<line x1="232.0" y1="1330.7" x2="259.6" y2="1330.7" stroke="#1c1c1c" stroke-width="5.6"/>
<text x="214.5" y="1341.5" text-anchor="end" class="tk">-1000</text>
<line x1="245.5" y1="1231.2" x2="259.6" y2="1231.2" stroke="#1c1c1c" stroke-width="5.6"/>
<line x1="232.0" y1="1131.6" x2="259.6" y2="1131.6" stroke="#1c1c1c" stroke-width="5.6"/>
<text x="214.5" y="1142.4" text-anchor="end" class="tk">0</text>
<line x1="245.5" y1="1032.0" x2="259.6" y2="1032.0" stroke="#1c1c1c" stroke-width="5.6"/>
<line x1="232.0" y1="932.5" x2="259.6" y2="932.5" stroke="#1c1c1c" stroke-width="5.6"/>
<text x="214.5" y="943.3" text-anchor="end" class="tk">1000</text>
<line x1="245.5" y1="832.9" x2="259.6" y2="832.9" stroke="#1c1c1c" stroke-width="5.6"/>
<line x1="232.0" y1="733.4" x2="259.6" y2="733.4" stroke="#1c1c1c" stroke-width="5.6"/>
<text x="214.5" y="744.2" text-anchor="end" class="tk">2000</text>
<line x1="245.5" y1="633.8" x2="259.6" y2="633.8" stroke="#1c1c1c" stroke-width="5.6"/>
<line x1="232.0" y1="534.2" x2="259.6" y2="534.2" stroke="#1c1c1c" stroke-width="5.6"/>
<text x="214.5" y="545.0" text-anchor="end" class="tk">3000</text>
<line x1="245.5" y1="434.7" x2="259.6" y2="434.7" stroke="#1c1c1c" stroke-width="5.6"/>
<line x1="232.0" y1="335.1" x2="259.6" y2="335.1" stroke="#1c1c1c" stroke-width="5.6"/>
<text x="214.5" y="345.9" text-anchor="end" class="tk">4000</text>
<line x1="245.5" y1="235.6" x2="259.6" y2="235.6" stroke="#1c1c1c" stroke-width="5.6"/>
<line x1="232.0" y1="136.0" x2="259.6" y2="136.0" stroke="#1c1c1c" stroke-width="5.6"/>
<text x="214.5" y="146.8" text-anchor="end" class="tk">5000</text>
<line x1="245.5" y1="36.4" x2="259.6" y2="36.4" stroke="#1c1c1c" stroke-width="5.6"/>
<line x1="259.5" y1="1449.8" x2="259.5" y2="1476.0" stroke="#1c1c1c" stroke-width="5.6"/>
<text x="259.5" y="1526.5" text-anchor="middle" class="tk">0</text>
<line x1="360.6" y1="1449.8" x2="360.6" y2="1463.5" stroke="#1c1c1c" stroke-width="5.6"/>
<line x1="461.6" y1="1449.8" x2="461.6" y2="1476.0" stroke="#1c1c1c" stroke-width="5.6"/>
<text x="461.6" y="1526.5" text-anchor="middle" class="tk">250</text>
<line x1="562.7" y1="1449.8" x2="562.7" y2="1463.5" stroke="#1c1c1c" stroke-width="5.6"/>
<line x1="663.8" y1="1449.8" x2="663.8" y2="1476.0" stroke="#1c1c1c" stroke-width="5.6"/>
<text x="663.8" y="1526.5" text-anchor="middle" class="tk">500</text>
<line x1="764.9" y1="1449.8" x2="764.9" y2="1463.5" stroke="#1c1c1c" stroke-width="5.6"/>
<line x1="866.0" y1="1449.8" x2="866.0" y2="1476.0" stroke="#1c1c1c" stroke-width="5.6"/>
<text x="866.0" y="1526.5" text-anchor="middle" class="tk">750</text>
<line x1="967.0" y1="1449.8" x2="967.0" y2="1463.5" stroke="#1c1c1c" stroke-width="5.6"/>
<line x1="1068.1" y1="1449.8" x2="1068.1" y2="1476.0" stroke="#1c1c1c" stroke-width="5.6"/>
<text x="1068.1" y="1526.5" text-anchor="middle" class="tk">1000</text>
<line x1="1169.2" y1="1449.8" x2="1169.2" y2="1463.5" stroke="#1c1c1c" stroke-width="5.6"/>
<line x1="1270.2" y1="1449.8" x2="1270.2" y2="1476.0" stroke="#1c1c1c" stroke-width="5.6"/>
<text x="1270.2" y="1526.5" text-anchor="middle" class="tk">1250</text>
<line x1="1371.3" y1="1449.8" x2="1371.3" y2="1463.5" stroke="#1c1c1c" stroke-width="5.6"/>
<line x1="1472.4" y1="1449.8" x2="1472.4" y2="1476.0" stroke="#1c1c1c" stroke-width="5.6"/>
<text x="1472.4" y="1526.5" text-anchor="middle" class="tk">1500</text>
<line x1="1573.5" y1="1449.8" x2="1573.5" y2="1463.5" stroke="#1c1c1c" stroke-width="5.6"/>
<line x1="1674.5" y1="1449.8" x2="1674.5" y2="1476.0" stroke="#1c1c1c" stroke-width="5.6"/>
<text x="1674.5" y="1526.5" text-anchor="middle" class="tk">1750</text>
<line x1="1775.6" y1="1449.8" x2="1775.6" y2="1463.5" stroke="#1c1c1c" stroke-width="5.6"/>
<line x1="1876.7" y1="1449.8" x2="1876.7" y2="1476.0" stroke="#1c1c1c" stroke-width="5.6"/>
<text x="1876.7" y="1526.5" text-anchor="middle" class="tk">2000</text>
<line x1="1977.8" y1="1449.8" x2="1977.8" y2="1463.5" stroke="#1c1c1c" stroke-width="5.6"/>
<line x1="299.5" y1="81.5" x2="416.0" y2="81.5" stroke="#ff8e1c" stroke-width="4.6"/>
<text x="426.0" y="98.8" class="tk">50 mV/s</text>
<line x1="585.5" y1="81.5" x2="703.0" y2="81.5" stroke="#1d8f8f" stroke-width="4.6"/>
<text x="712.5" y="98.8" class="tk">100 mV/s</text>
<line x1="892.0" y1="81.5" x2="1008.5" y2="81.5" stroke="#8e1a1e" stroke-width="4.6"/>
<text x="1017.5" y="98.8" class="tk">200 mV/s</text>
<line x1="1199.0" y1="81.5" x2="1314.5" y2="81.5" stroke="#939393" stroke-width="4.6"/>
<text x="1325" y="98.8" class="tk">Na<tspan font-size="30" dy="9">2</tspan><tspan dy="-9">SO</tspan><tspan font-size="30" dy="9">4</tspan></text>
<text x="962" y="390.5" class="an">(1562 mV, 3524.2 µA)</text>
<text x="947.5" y="536.5" class="an">(1538 mV, 2223 µA)</text>
<text x="874" y="712" class="an">(1482 mV, 1220 µA)</text>
<text x="1128.7" y="1637" text-anchor="middle" class="ti"><tspan font-style="italic">E</tspan> (mV) vs. Ag/AgCl</text>
<text transform="translate(67,707.5) rotate(-90)" text-anchor="middle" class="ti" style="letter-spacing:0;font-size:55px"><tspan font-style="italic">i</tspan> (µA)</text>
</svg></div>
</body></html>
